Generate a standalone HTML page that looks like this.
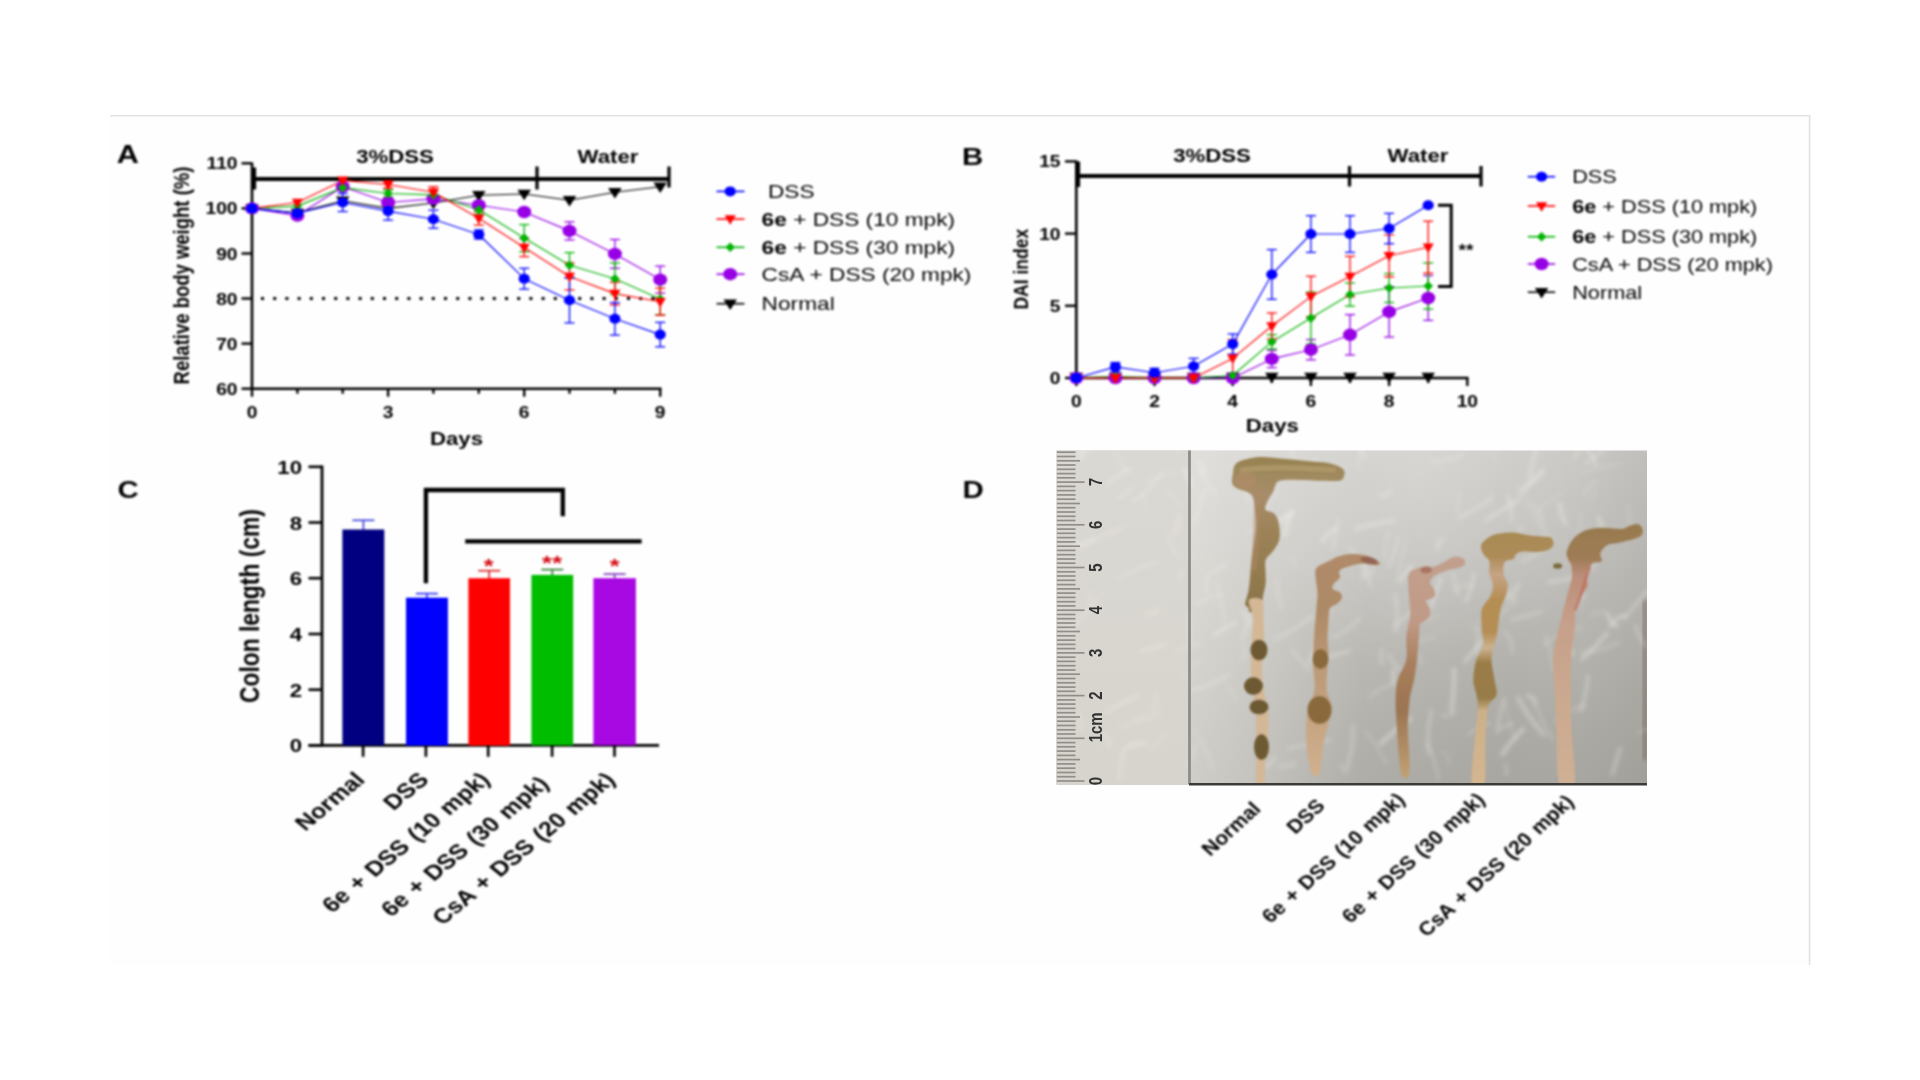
<!DOCTYPE html><html><head><meta charset="utf-8"><title>Figure</title><style>html,body{margin:0;padding:0;background:#fff;overflow:hidden}svg{display:block}text{font-family:'Liberation Sans', Arial, sans-serif}</style></head><body>
<svg width="1920" height="1080" viewBox="0 0 1920 1080">
<rect width="1920" height="1080" fill="#fff"/>
<defs><filter id="gblur" x="0" y="0" width="1920" height="1080" filterUnits="userSpaceOnUse" color-interpolation-filters="sRGB"><feGaussianBlur stdDeviation="1.0"/><feComponentTransfer><feFuncR type="linear" slope="1.25" intercept="-0.12"/><feFuncG type="linear" slope="1.25" intercept="-0.12"/><feFuncB type="linear" slope="1.25" intercept="-0.12"/></feComponentTransfer></filter></defs>
<rect x="110" y="116" width="1699" height="849" fill="#fefefe"/>
<line x1="110.0" y1="115.8" x2="1810.0" y2="115.8" stroke="#e2e2e2" stroke-width="1.6" />
<line x1="1809.6" y1="115.0" x2="1809.6" y2="965.0" stroke="#e2e2e2" stroke-width="1.6" />
<g filter="url(#gblur)">
<text transform="translate(116.8,162.6) scale(1.2,1)" font-size="25.5" font-weight="bold" text-anchor="start" fill="#111" id="tA">A</text>
<line x1="252.0" y1="162.5" x2="252.0" y2="390.0" stroke="#111" stroke-width="2.6" />
<line x1="251.0" y1="388.7" x2="661.5" y2="388.7" stroke="#111" stroke-width="2.6" />
<line x1="241.5" y1="388.7" x2="252.0" y2="388.7" stroke="#111" stroke-width="2.4" />
<text transform="translate(237.5,394.7) scale(1.2,1)" font-size="16" font-weight="bold" text-anchor="end" fill="#111" >60</text>
<line x1="241.5" y1="343.6" x2="252.0" y2="343.6" stroke="#111" stroke-width="2.4" />
<text transform="translate(237.5,349.6) scale(1.2,1)" font-size="16" font-weight="bold" text-anchor="end" fill="#111" >70</text>
<line x1="241.5" y1="298.5" x2="252.0" y2="298.5" stroke="#111" stroke-width="2.4" />
<text transform="translate(237.5,304.5) scale(1.2,1)" font-size="16" font-weight="bold" text-anchor="end" fill="#111" >80</text>
<line x1="241.5" y1="253.5" x2="252.0" y2="253.5" stroke="#111" stroke-width="2.4" />
<text transform="translate(237.5,259.5) scale(1.2,1)" font-size="16" font-weight="bold" text-anchor="end" fill="#111" >90</text>
<line x1="241.5" y1="208.4" x2="252.0" y2="208.4" stroke="#111" stroke-width="2.4" />
<text transform="translate(237.5,214.4) scale(1.2,1)" font-size="16" font-weight="bold" text-anchor="end" fill="#111" >100</text>
<line x1="241.5" y1="163.3" x2="252.0" y2="163.3" stroke="#111" stroke-width="2.4" />
<text transform="translate(237.5,169.3) scale(1.2,1)" font-size="16" font-weight="bold" text-anchor="end" fill="#111" >110</text>
<line x1="252.0" y1="388.7" x2="252.0" y2="396.7" stroke="#111" stroke-width="2.4" />
<line x1="297.4" y1="388.7" x2="297.4" y2="393.7" stroke="#111" stroke-width="2.4" />
<line x1="342.7" y1="388.7" x2="342.7" y2="393.7" stroke="#111" stroke-width="2.4" />
<line x1="388.1" y1="388.7" x2="388.1" y2="396.7" stroke="#111" stroke-width="2.4" />
<line x1="433.4" y1="388.7" x2="433.4" y2="393.7" stroke="#111" stroke-width="2.4" />
<line x1="478.8" y1="388.7" x2="478.8" y2="393.7" stroke="#111" stroke-width="2.4" />
<line x1="524.2" y1="388.7" x2="524.2" y2="396.7" stroke="#111" stroke-width="2.4" />
<line x1="569.5" y1="388.7" x2="569.5" y2="393.7" stroke="#111" stroke-width="2.4" />
<line x1="614.9" y1="388.7" x2="614.9" y2="393.7" stroke="#111" stroke-width="2.4" />
<line x1="660.2" y1="388.7" x2="660.2" y2="396.7" stroke="#111" stroke-width="2.4" />
<text transform="translate(252.0,417.5) scale(1.2,1)" font-size="16" font-weight="bold" text-anchor="middle" fill="#111" >0</text>
<text transform="translate(388.1,417.5) scale(1.2,1)" font-size="16" font-weight="bold" text-anchor="middle" fill="#111" >3</text>
<text transform="translate(524.2,417.5) scale(1.2,1)" font-size="16" font-weight="bold" text-anchor="middle" fill="#111" >6</text>
<text transform="translate(660.2,417.5) scale(1.2,1)" font-size="16" font-weight="bold" text-anchor="middle" fill="#111" >9</text>
<text transform="translate(456.5,445.0) scale(1.2,1)" font-size="18.5" font-weight="bold" text-anchor="middle" fill="#111" >Days</text>
<text transform="translate(189.3,275.5) scale(1.2,1) rotate(-90)" font-size="18.5" font-weight="bold" text-anchor="middle" fill="#111" id="ylA">Relative body weight (%)</text>
<line x1="254.0" y1="179.0" x2="669.5" y2="179.0" stroke="#111" stroke-width="4.0" />
<line x1="254.5" y1="167.5" x2="254.5" y2="189.5" stroke="#111" stroke-width="3.2" />
<line x1="537.0" y1="166.5" x2="537.0" y2="189.5" stroke="#111" stroke-width="3.2" />
<line x1="669.0" y1="166.5" x2="669.0" y2="187.5" stroke="#111" stroke-width="3.2" />
<text transform="translate(395.0,163.0) scale(1.2,1)" font-size="18.5" font-weight="bold" text-anchor="middle" fill="#111" >3%DSS</text>
<text transform="translate(608.0,163.0) scale(1.2,1)" font-size="18.5" font-weight="bold" text-anchor="middle" fill="#111" >Water</text>
<line x1="261" y1="298.5" x2="662" y2="298.5" stroke="#111" stroke-width="3" stroke-dasharray="3 9.2"/>
<polyline points="252.0,208.4 297.4,212.9 342.7,200.7 388.1,208.4 433.4,203.0 478.8,195.3 524.2,194.0 569.5,200.3 614.9,192.2 660.2,186.7" fill="none" stroke="#111" stroke-width="1.15" stroke-linejoin="round" />
<polyline points="252.0,208.4 297.4,215.6 342.7,186.7 388.1,202.5 433.4,198.9 478.8,205.2 524.2,212.0 569.5,230.9 614.9,253.9 660.2,279.6" fill="none" stroke="#9216d0" stroke-width="1.15" stroke-linejoin="round" />
<polyline points="252.0,208.4 297.4,206.1 342.7,187.6 388.1,193.5 433.4,194.9 478.8,209.7 524.2,238.1 569.5,265.2 614.9,278.7 660.2,299.0" fill="none" stroke="#16a816" stroke-width="1.15" stroke-linejoin="round" />
<polyline points="252.0,208.4 297.4,202.5 342.7,180.4 388.1,184.5 433.4,192.2 478.8,218.3 524.2,247.6 569.5,276.5 614.9,293.6 660.2,301.7" fill="none" stroke="#f01414" stroke-width="1.15" stroke-linejoin="round" />
<polyline points="252.0,208.4 297.4,213.3 342.7,202.5 388.1,211.1 433.4,219.2 478.8,234.5 524.2,278.7 569.5,300.3 614.9,318.8 660.2,334.6" fill="none" stroke="#0a0af5" stroke-width="1.15" stroke-linejoin="round" />
<line x1="388.1" y1="198.9" x2="388.1" y2="206.1" stroke="#9216d0" stroke-width="1.3" />
<line x1="383.1" y1="198.9" x2="393.1" y2="198.9" stroke="#9216d0" stroke-width="1.3" />
<line x1="383.1" y1="206.1" x2="393.1" y2="206.1" stroke="#9216d0" stroke-width="1.3" />
<line x1="433.4" y1="195.3" x2="433.4" y2="202.5" stroke="#9216d0" stroke-width="1.3" />
<line x1="428.4" y1="195.3" x2="438.4" y2="195.3" stroke="#9216d0" stroke-width="1.3" />
<line x1="428.4" y1="202.5" x2="438.4" y2="202.5" stroke="#9216d0" stroke-width="1.3" />
<line x1="524.2" y1="208.4" x2="524.2" y2="215.6" stroke="#9216d0" stroke-width="1.3" />
<line x1="519.2" y1="208.4" x2="529.2" y2="208.4" stroke="#9216d0" stroke-width="1.3" />
<line x1="519.2" y1="215.6" x2="529.2" y2="215.6" stroke="#9216d0" stroke-width="1.3" />
<line x1="569.5" y1="221.9" x2="569.5" y2="239.9" stroke="#9216d0" stroke-width="1.3" />
<line x1="564.5" y1="221.9" x2="574.5" y2="221.9" stroke="#9216d0" stroke-width="1.3" />
<line x1="564.5" y1="239.9" x2="574.5" y2="239.9" stroke="#9216d0" stroke-width="1.3" />
<line x1="614.9" y1="239.5" x2="614.9" y2="268.3" stroke="#9216d0" stroke-width="1.3" />
<line x1="609.9" y1="239.5" x2="619.9" y2="239.5" stroke="#9216d0" stroke-width="1.3" />
<line x1="609.9" y1="268.3" x2="619.9" y2="268.3" stroke="#9216d0" stroke-width="1.3" />
<line x1="660.2" y1="266.1" x2="660.2" y2="293.1" stroke="#9216d0" stroke-width="1.3" />
<line x1="655.2" y1="266.1" x2="665.2" y2="266.1" stroke="#9216d0" stroke-width="1.3" />
<line x1="655.2" y1="293.1" x2="665.2" y2="293.1" stroke="#9216d0" stroke-width="1.3" />
<line x1="388.1" y1="189.9" x2="388.1" y2="197.1" stroke="#16a816" stroke-width="1.3" />
<line x1="383.1" y1="189.9" x2="393.1" y2="189.9" stroke="#16a816" stroke-width="1.3" />
<line x1="383.1" y1="197.1" x2="393.1" y2="197.1" stroke="#16a816" stroke-width="1.3" />
<line x1="433.4" y1="191.2" x2="433.4" y2="198.5" stroke="#16a816" stroke-width="1.3" />
<line x1="428.4" y1="191.2" x2="438.4" y2="191.2" stroke="#16a816" stroke-width="1.3" />
<line x1="428.4" y1="198.5" x2="438.4" y2="198.5" stroke="#16a816" stroke-width="1.3" />
<line x1="478.8" y1="205.2" x2="478.8" y2="214.2" stroke="#16a816" stroke-width="1.3" />
<line x1="473.8" y1="205.2" x2="483.8" y2="205.2" stroke="#16a816" stroke-width="1.3" />
<line x1="473.8" y1="214.2" x2="483.8" y2="214.2" stroke="#16a816" stroke-width="1.3" />
<line x1="524.2" y1="224.6" x2="524.2" y2="251.7" stroke="#16a816" stroke-width="1.3" />
<line x1="519.2" y1="224.6" x2="529.2" y2="224.6" stroke="#16a816" stroke-width="1.3" />
<line x1="519.2" y1="251.7" x2="529.2" y2="251.7" stroke="#16a816" stroke-width="1.3" />
<line x1="569.5" y1="252.6" x2="569.5" y2="277.8" stroke="#16a816" stroke-width="1.3" />
<line x1="564.5" y1="252.6" x2="574.5" y2="252.6" stroke="#16a816" stroke-width="1.3" />
<line x1="564.5" y1="277.8" x2="574.5" y2="277.8" stroke="#16a816" stroke-width="1.3" />
<line x1="614.9" y1="262.9" x2="614.9" y2="294.5" stroke="#16a816" stroke-width="1.3" />
<line x1="609.9" y1="262.9" x2="619.9" y2="262.9" stroke="#16a816" stroke-width="1.3" />
<line x1="609.9" y1="294.5" x2="619.9" y2="294.5" stroke="#16a816" stroke-width="1.3" />
<line x1="660.2" y1="283.2" x2="660.2" y2="314.8" stroke="#16a816" stroke-width="1.3" />
<line x1="655.2" y1="283.2" x2="665.2" y2="283.2" stroke="#16a816" stroke-width="1.3" />
<line x1="655.2" y1="314.8" x2="665.2" y2="314.8" stroke="#16a816" stroke-width="1.3" />
<line x1="388.1" y1="180.9" x2="388.1" y2="188.1" stroke="#f01414" stroke-width="1.3" />
<line x1="383.1" y1="180.9" x2="393.1" y2="180.9" stroke="#f01414" stroke-width="1.3" />
<line x1="383.1" y1="188.1" x2="393.1" y2="188.1" stroke="#f01414" stroke-width="1.3" />
<line x1="433.4" y1="186.7" x2="433.4" y2="197.6" stroke="#f01414" stroke-width="1.3" />
<line x1="428.4" y1="186.7" x2="438.4" y2="186.7" stroke="#f01414" stroke-width="1.3" />
<line x1="428.4" y1="197.6" x2="438.4" y2="197.6" stroke="#f01414" stroke-width="1.3" />
<line x1="478.8" y1="211.5" x2="478.8" y2="225.1" stroke="#f01414" stroke-width="1.3" />
<line x1="473.8" y1="211.5" x2="483.8" y2="211.5" stroke="#f01414" stroke-width="1.3" />
<line x1="473.8" y1="225.1" x2="483.8" y2="225.1" stroke="#f01414" stroke-width="1.3" />
<line x1="524.2" y1="238.6" x2="524.2" y2="256.6" stroke="#f01414" stroke-width="1.3" />
<line x1="519.2" y1="238.6" x2="529.2" y2="238.6" stroke="#f01414" stroke-width="1.3" />
<line x1="519.2" y1="256.6" x2="529.2" y2="256.6" stroke="#f01414" stroke-width="1.3" />
<line x1="569.5" y1="262.9" x2="569.5" y2="290.0" stroke="#f01414" stroke-width="1.3" />
<line x1="564.5" y1="262.9" x2="574.5" y2="262.9" stroke="#f01414" stroke-width="1.3" />
<line x1="564.5" y1="290.0" x2="574.5" y2="290.0" stroke="#f01414" stroke-width="1.3" />
<line x1="614.9" y1="282.3" x2="614.9" y2="304.9" stroke="#f01414" stroke-width="1.3" />
<line x1="609.9" y1="282.3" x2="619.9" y2="282.3" stroke="#f01414" stroke-width="1.3" />
<line x1="609.9" y1="304.9" x2="619.9" y2="304.9" stroke="#f01414" stroke-width="1.3" />
<line x1="660.2" y1="288.2" x2="660.2" y2="315.2" stroke="#f01414" stroke-width="1.3" />
<line x1="655.2" y1="288.2" x2="665.2" y2="288.2" stroke="#f01414" stroke-width="1.3" />
<line x1="655.2" y1="315.2" x2="665.2" y2="315.2" stroke="#f01414" stroke-width="1.3" />
<line x1="297.4" y1="209.7" x2="297.4" y2="216.9" stroke="#0a0af5" stroke-width="1.3" />
<line x1="292.4" y1="209.7" x2="302.4" y2="209.7" stroke="#0a0af5" stroke-width="1.3" />
<line x1="292.4" y1="216.9" x2="302.4" y2="216.9" stroke="#0a0af5" stroke-width="1.3" />
<line x1="342.7" y1="193.5" x2="342.7" y2="211.5" stroke="#0a0af5" stroke-width="1.3" />
<line x1="337.7" y1="193.5" x2="347.7" y2="193.5" stroke="#0a0af5" stroke-width="1.3" />
<line x1="337.7" y1="211.5" x2="347.7" y2="211.5" stroke="#0a0af5" stroke-width="1.3" />
<line x1="388.1" y1="202.1" x2="388.1" y2="220.1" stroke="#0a0af5" stroke-width="1.3" />
<line x1="383.1" y1="202.1" x2="393.1" y2="202.1" stroke="#0a0af5" stroke-width="1.3" />
<line x1="383.1" y1="220.1" x2="393.1" y2="220.1" stroke="#0a0af5" stroke-width="1.3" />
<line x1="433.4" y1="210.2" x2="433.4" y2="228.2" stroke="#0a0af5" stroke-width="1.3" />
<line x1="428.4" y1="210.2" x2="438.4" y2="210.2" stroke="#0a0af5" stroke-width="1.3" />
<line x1="428.4" y1="228.2" x2="438.4" y2="228.2" stroke="#0a0af5" stroke-width="1.3" />
<line x1="478.8" y1="230.0" x2="478.8" y2="239.0" stroke="#0a0af5" stroke-width="1.3" />
<line x1="473.8" y1="230.0" x2="483.8" y2="230.0" stroke="#0a0af5" stroke-width="1.3" />
<line x1="473.8" y1="239.0" x2="483.8" y2="239.0" stroke="#0a0af5" stroke-width="1.3" />
<line x1="524.2" y1="268.3" x2="524.2" y2="289.1" stroke="#0a0af5" stroke-width="1.3" />
<line x1="519.2" y1="268.3" x2="529.2" y2="268.3" stroke="#0a0af5" stroke-width="1.3" />
<line x1="519.2" y1="289.1" x2="529.2" y2="289.1" stroke="#0a0af5" stroke-width="1.3" />
<line x1="569.5" y1="277.8" x2="569.5" y2="322.9" stroke="#0a0af5" stroke-width="1.3" />
<line x1="564.5" y1="277.8" x2="574.5" y2="277.8" stroke="#0a0af5" stroke-width="1.3" />
<line x1="564.5" y1="322.9" x2="574.5" y2="322.9" stroke="#0a0af5" stroke-width="1.3" />
<line x1="614.9" y1="302.6" x2="614.9" y2="335.1" stroke="#0a0af5" stroke-width="1.3" />
<line x1="609.9" y1="302.6" x2="619.9" y2="302.6" stroke="#0a0af5" stroke-width="1.3" />
<line x1="609.9" y1="335.1" x2="619.9" y2="335.1" stroke="#0a0af5" stroke-width="1.3" />
<line x1="660.2" y1="322.4" x2="660.2" y2="346.8" stroke="#0a0af5" stroke-width="1.3" />
<line x1="655.2" y1="322.4" x2="665.2" y2="322.4" stroke="#0a0af5" stroke-width="1.3" />
<line x1="655.2" y1="346.8" x2="665.2" y2="346.8" stroke="#0a0af5" stroke-width="1.3" />
<polygon points="245.2,204.2 258.8,204.2 252.0,214.7" fill="#111"/>
<polygon points="290.6,208.7 304.2,208.7 297.4,219.2" fill="#111"/>
<polygon points="335.9,196.5 349.5,196.5 342.7,207.0" fill="#111"/>
<polygon points="381.3,204.2 394.9,204.2 388.1,214.7" fill="#111"/>
<polygon points="426.6,198.8 440.2,198.8 433.4,209.3" fill="#111"/>
<polygon points="472.0,191.1 485.6,191.1 478.8,201.6" fill="#111"/>
<polygon points="517.4,189.8 531.0,189.8 524.2,200.3" fill="#111"/>
<polygon points="562.7,196.1 576.3,196.1 569.5,206.6" fill="#111"/>
<polygon points="608.1,188.0 621.7,188.0 614.9,198.5" fill="#111"/>
<polygon points="653.4,182.5 667.0,182.5 660.2,193.0" fill="#111"/>
<ellipse cx="252.0" cy="208.4" rx="7.0" ry="6.2" fill="#9216d0"/>
<ellipse cx="297.4" cy="215.6" rx="7.0" ry="6.2" fill="#9216d0"/>
<ellipse cx="342.7" cy="186.7" rx="7.0" ry="6.2" fill="#9216d0"/>
<ellipse cx="388.1" cy="202.5" rx="7.0" ry="6.2" fill="#9216d0"/>
<ellipse cx="433.4" cy="198.9" rx="7.0" ry="6.2" fill="#9216d0"/>
<ellipse cx="478.8" cy="205.2" rx="7.0" ry="6.2" fill="#9216d0"/>
<ellipse cx="524.2" cy="212.0" rx="7.0" ry="6.2" fill="#9216d0"/>
<ellipse cx="569.5" cy="230.9" rx="7.0" ry="6.2" fill="#9216d0"/>
<ellipse cx="614.9" cy="253.9" rx="7.0" ry="6.2" fill="#9216d0"/>
<ellipse cx="660.2" cy="279.6" rx="7.0" ry="6.2" fill="#9216d0"/>
<polygon points="247.2,208.4 252.0,203.6 256.8,208.4 252.0,213.2" fill="#16a816"/>
<polygon points="292.6,206.1 297.4,201.3 302.2,206.1 297.4,210.9" fill="#16a816"/>
<polygon points="337.9,187.6 342.7,182.8 347.5,187.6 342.7,192.4" fill="#16a816"/>
<polygon points="383.3,193.5 388.1,188.7 392.9,193.5 388.1,198.3" fill="#16a816"/>
<polygon points="428.6,194.9 433.4,190.1 438.2,194.9 433.4,199.7" fill="#16a816"/>
<polygon points="474.0,209.7 478.8,204.9 483.6,209.7 478.8,214.5" fill="#16a816"/>
<polygon points="519.4,238.1 524.2,233.3 529.0,238.1 524.2,242.9" fill="#16a816"/>
<polygon points="564.7,265.2 569.5,260.4 574.3,265.2 569.5,270.0" fill="#16a816"/>
<polygon points="610.1,278.7 614.9,273.9 619.7,278.7 614.9,283.5" fill="#16a816"/>
<polygon points="655.4,299.0 660.2,294.2 665.0,299.0 660.2,303.8" fill="#16a816"/>
<polygon points="246.4,204.6 257.6,204.6 252.0,214.1" fill="#f01414"/>
<polygon points="291.8,198.7 303.0,198.7 297.4,208.2" fill="#f01414"/>
<polygon points="337.1,176.6 348.3,176.6 342.7,186.1" fill="#f01414"/>
<polygon points="382.5,180.7 393.7,180.7 388.1,190.2" fill="#f01414"/>
<polygon points="427.8,188.4 439.0,188.4 433.4,197.9" fill="#f01414"/>
<polygon points="473.2,214.5 484.4,214.5 478.8,224.0" fill="#f01414"/>
<polygon points="518.6,243.8 529.8,243.8 524.2,253.3" fill="#f01414"/>
<polygon points="563.9,272.7 575.1,272.7 569.5,282.2" fill="#f01414"/>
<polygon points="609.3,289.8 620.5,289.8 614.9,299.3" fill="#f01414"/>
<polygon points="654.6,297.9 665.8,297.9 660.2,307.4" fill="#f01414"/>
<ellipse cx="252.0" cy="208.4" rx="5.6" ry="5.0" fill="#0a0af5"/>
<ellipse cx="297.4" cy="213.3" rx="5.6" ry="5.0" fill="#0a0af5"/>
<ellipse cx="342.7" cy="202.5" rx="5.6" ry="5.0" fill="#0a0af5"/>
<ellipse cx="388.1" cy="211.1" rx="5.6" ry="5.0" fill="#0a0af5"/>
<ellipse cx="433.4" cy="219.2" rx="5.6" ry="5.0" fill="#0a0af5"/>
<ellipse cx="478.8" cy="234.5" rx="5.6" ry="5.0" fill="#0a0af5"/>
<ellipse cx="524.2" cy="278.7" rx="5.6" ry="5.0" fill="#0a0af5"/>
<ellipse cx="569.5" cy="300.3" rx="5.6" ry="5.0" fill="#0a0af5"/>
<ellipse cx="614.9" cy="318.8" rx="5.6" ry="5.0" fill="#0a0af5"/>
<ellipse cx="660.2" cy="334.6" rx="5.6" ry="5.0" fill="#0a0af5"/>
<line x1="716.5" y1="191.4" x2="744.5" y2="191.4" stroke="#0a0af5" stroke-width="1.6" />
<ellipse cx="730.2" cy="191.4" rx="5.6" ry="5.0" fill="#0a0af5"/>
<text transform="translate(761.6,197.9) scale(1.26,1)" font-size="18" fill="#1a1a1a"> DSS</text>
<line x1="716.5" y1="219.1" x2="744.5" y2="219.1" stroke="#f01414" stroke-width="1.6" />
<polygon points="724.6,215.3 735.8,215.3 730.2,224.8" fill="#f01414"/>
<text transform="translate(761.6,225.6) scale(1.26,1)" font-size="18" fill="#1a1a1a"><tspan font-weight="bold">6e</tspan> + DSS (10 mpk)</text>
<line x1="716.5" y1="247.3" x2="744.5" y2="247.3" stroke="#16a816" stroke-width="1.6" />
<polygon points="725.4,247.3 730.2,242.5 735.0,247.3 730.2,252.1" fill="#16a816"/>
<text transform="translate(761.6,253.8) scale(1.26,1)" font-size="18" fill="#1a1a1a"><tspan font-weight="bold">6e</tspan> + DSS (30 mpk)</text>
<line x1="716.5" y1="274.2" x2="744.5" y2="274.2" stroke="#9216d0" stroke-width="1.6" />
<ellipse cx="730.2" cy="274.2" rx="7.0" ry="6.2" fill="#9216d0"/>
<text transform="translate(761.6,280.7) scale(1.26,1)" font-size="18" fill="#1a1a1a">CsA + DSS (20 mpk)</text>
<line x1="716.5" y1="303.7" x2="744.5" y2="303.7" stroke="#111" stroke-width="1.6" />
<polygon points="723.4,299.5 737.0,299.5 730.2,310.0" fill="#111"/>
<text transform="translate(761.6,310.2) scale(1.26,1)" font-size="18" fill="#1a1a1a">Normal</text>
<text transform="translate(962.0,165.0) scale(1.2,1)" font-size="24.5" font-weight="bold" text-anchor="start" fill="#111" id="tB">B</text>
<line x1="1076.3" y1="160.5" x2="1076.3" y2="379.3" stroke="#111" stroke-width="2.6" />
<line x1="1075.0" y1="378.0" x2="1468.5" y2="378.0" stroke="#111" stroke-width="2.6" />
<line x1="1065.0" y1="378.0" x2="1076.3" y2="378.0" stroke="#111" stroke-width="2.4" />
<text transform="translate(1060.5,384.0) scale(1.2,1)" font-size="16" font-weight="bold" text-anchor="end" fill="#111" >0</text>
<line x1="1065.0" y1="305.8" x2="1076.3" y2="305.8" stroke="#111" stroke-width="2.4" />
<text transform="translate(1060.5,311.8) scale(1.2,1)" font-size="16" font-weight="bold" text-anchor="end" fill="#111" >5</text>
<line x1="1065.0" y1="233.6" x2="1076.3" y2="233.6" stroke="#111" stroke-width="2.4" />
<text transform="translate(1060.5,239.6) scale(1.2,1)" font-size="16" font-weight="bold" text-anchor="end" fill="#111" >10</text>
<line x1="1065.0" y1="161.4" x2="1076.3" y2="161.4" stroke="#111" stroke-width="2.4" />
<text transform="translate(1060.5,167.4) scale(1.2,1)" font-size="16" font-weight="bold" text-anchor="end" fill="#111" >15</text>
<line x1="1076.3" y1="378.0" x2="1076.3" y2="386.0" stroke="#111" stroke-width="2.4" />
<line x1="1115.4" y1="378.0" x2="1115.4" y2="383.0" stroke="#111" stroke-width="2.4" />
<line x1="1154.5" y1="378.0" x2="1154.5" y2="386.0" stroke="#111" stroke-width="2.4" />
<line x1="1193.6" y1="378.0" x2="1193.6" y2="383.0" stroke="#111" stroke-width="2.4" />
<line x1="1232.7" y1="378.0" x2="1232.7" y2="386.0" stroke="#111" stroke-width="2.4" />
<line x1="1271.8" y1="378.0" x2="1271.8" y2="383.0" stroke="#111" stroke-width="2.4" />
<line x1="1310.9" y1="378.0" x2="1310.9" y2="386.0" stroke="#111" stroke-width="2.4" />
<line x1="1350.0" y1="378.0" x2="1350.0" y2="383.0" stroke="#111" stroke-width="2.4" />
<line x1="1389.1" y1="378.0" x2="1389.1" y2="386.0" stroke="#111" stroke-width="2.4" />
<line x1="1428.2" y1="378.0" x2="1428.2" y2="383.0" stroke="#111" stroke-width="2.4" />
<line x1="1467.3" y1="378.0" x2="1467.3" y2="386.0" stroke="#111" stroke-width="2.4" />
<text transform="translate(1076.3,406.5) scale(1.2,1)" font-size="16" font-weight="bold" text-anchor="middle" fill="#111" >0</text>
<text transform="translate(1154.5,406.5) scale(1.2,1)" font-size="16" font-weight="bold" text-anchor="middle" fill="#111" >2</text>
<text transform="translate(1232.7,406.5) scale(1.2,1)" font-size="16" font-weight="bold" text-anchor="middle" fill="#111" >4</text>
<text transform="translate(1310.9,406.5) scale(1.2,1)" font-size="16" font-weight="bold" text-anchor="middle" fill="#111" >6</text>
<text transform="translate(1389.1,406.5) scale(1.2,1)" font-size="16" font-weight="bold" text-anchor="middle" fill="#111" >8</text>
<text transform="translate(1467.3,406.5) scale(1.2,1)" font-size="16" font-weight="bold" text-anchor="middle" fill="#111" >10</text>
<text transform="translate(1272.3,431.5) scale(1.2,1)" font-size="18.5" font-weight="bold" text-anchor="middle" fill="#111" >Days</text>
<text transform="translate(1027.5,269.2) scale(1.2,1) rotate(-90)" font-size="17.5" font-weight="bold" text-anchor="middle" fill="#111" id="ylB">DAI index</text>
<line x1="1078.0" y1="176.0" x2="1481.5" y2="176.0" stroke="#111" stroke-width="4.0" />
<line x1="1078.5" y1="161.5" x2="1078.5" y2="187.0" stroke="#111" stroke-width="3.2" />
<line x1="1349.5" y1="166.0" x2="1349.5" y2="186.5" stroke="#111" stroke-width="3.2" />
<line x1="1481.0" y1="166.0" x2="1481.0" y2="186.5" stroke="#111" stroke-width="3.2" />
<text transform="translate(1212.0,161.5) scale(1.2,1)" font-size="18.5" font-weight="bold" text-anchor="middle" fill="#111" >3%DSS</text>
<text transform="translate(1418.0,161.5) scale(1.2,1)" font-size="18.5" font-weight="bold" text-anchor="middle" fill="#111" >Water</text>
<polyline points="1076.3,378.0 1115.4,378.0 1154.5,378.0 1193.6,378.0 1232.7,378.0 1271.8,378.0 1310.9,378.0 1350.0,378.0 1389.1,378.0 1428.2,378.0" fill="none" stroke="#111" stroke-width="1.15" stroke-linejoin="round" />
<polyline points="1076.3,378.0 1115.4,378.0 1154.5,378.0 1193.6,378.0 1232.7,378.0 1271.8,358.9 1310.9,349.7 1350.0,334.8 1389.1,311.9 1428.2,298.0" fill="none" stroke="#9216d0" stroke-width="1.15" stroke-linejoin="round" />
<polyline points="1076.3,378.0 1115.4,376.6 1154.5,378.0 1193.6,378.0 1232.7,375.5 1271.8,341.9 1310.9,318.1 1350.0,294.5 1389.1,288.0 1428.2,286.0" fill="none" stroke="#16a816" stroke-width="1.15" stroke-linejoin="round" />
<polyline points="1076.3,378.0 1115.4,378.0 1154.5,378.0 1193.6,378.0 1232.7,358.4 1271.8,326.0 1310.9,296.6 1350.0,276.5 1389.1,255.8 1428.2,247.2" fill="none" stroke="#f01414" stroke-width="1.15" stroke-linejoin="round" />
<polyline points="1076.3,378.0 1115.4,366.9 1154.5,372.7 1193.6,366.3 1232.7,344.1 1271.8,274.5 1310.9,234.0 1350.0,234.0 1389.1,228.5 1428.2,205.2" fill="none" stroke="#0a0af5" stroke-width="1.15" stroke-linejoin="round" />
<line x1="1271.8" y1="350.3" x2="1271.8" y2="367.6" stroke="#9216d0" stroke-width="1.3" />
<line x1="1266.8" y1="350.3" x2="1276.8" y2="350.3" stroke="#9216d0" stroke-width="1.3" />
<line x1="1266.8" y1="367.6" x2="1276.8" y2="367.6" stroke="#9216d0" stroke-width="1.3" />
<line x1="1310.9" y1="339.6" x2="1310.9" y2="359.8" stroke="#9216d0" stroke-width="1.3" />
<line x1="1305.9" y1="339.6" x2="1315.9" y2="339.6" stroke="#9216d0" stroke-width="1.3" />
<line x1="1305.9" y1="359.8" x2="1315.9" y2="359.8" stroke="#9216d0" stroke-width="1.3" />
<line x1="1350.0" y1="314.6" x2="1350.0" y2="355.0" stroke="#9216d0" stroke-width="1.3" />
<line x1="1345.0" y1="314.6" x2="1355.0" y2="314.6" stroke="#9216d0" stroke-width="1.3" />
<line x1="1345.0" y1="355.0" x2="1355.0" y2="355.0" stroke="#9216d0" stroke-width="1.3" />
<line x1="1389.1" y1="286.6" x2="1389.1" y2="337.1" stroke="#9216d0" stroke-width="1.3" />
<line x1="1384.1" y1="286.6" x2="1394.1" y2="286.6" stroke="#9216d0" stroke-width="1.3" />
<line x1="1384.1" y1="337.1" x2="1394.1" y2="337.1" stroke="#9216d0" stroke-width="1.3" />
<line x1="1428.2" y1="275.6" x2="1428.2" y2="320.4" stroke="#9216d0" stroke-width="1.3" />
<line x1="1423.2" y1="275.6" x2="1433.2" y2="275.6" stroke="#9216d0" stroke-width="1.3" />
<line x1="1423.2" y1="320.4" x2="1433.2" y2="320.4" stroke="#9216d0" stroke-width="1.3" />
<line x1="1271.8" y1="334.7" x2="1271.8" y2="349.1" stroke="#16a816" stroke-width="1.3" />
<line x1="1266.8" y1="334.7" x2="1276.8" y2="334.7" stroke="#16a816" stroke-width="1.3" />
<line x1="1266.8" y1="349.1" x2="1276.8" y2="349.1" stroke="#16a816" stroke-width="1.3" />
<line x1="1310.9" y1="292.1" x2="1310.9" y2="344.1" stroke="#16a816" stroke-width="1.3" />
<line x1="1305.9" y1="292.1" x2="1315.9" y2="292.1" stroke="#16a816" stroke-width="1.3" />
<line x1="1305.9" y1="344.1" x2="1315.9" y2="344.1" stroke="#16a816" stroke-width="1.3" />
<line x1="1350.0" y1="283.0" x2="1350.0" y2="306.1" stroke="#16a816" stroke-width="1.3" />
<line x1="1345.0" y1="283.0" x2="1355.0" y2="283.0" stroke="#16a816" stroke-width="1.3" />
<line x1="1345.0" y1="306.1" x2="1355.0" y2="306.1" stroke="#16a816" stroke-width="1.3" />
<line x1="1389.1" y1="273.6" x2="1389.1" y2="302.5" stroke="#16a816" stroke-width="1.3" />
<line x1="1384.1" y1="273.6" x2="1394.1" y2="273.6" stroke="#16a816" stroke-width="1.3" />
<line x1="1384.1" y1="302.5" x2="1394.1" y2="302.5" stroke="#16a816" stroke-width="1.3" />
<line x1="1428.2" y1="262.9" x2="1428.2" y2="309.1" stroke="#16a816" stroke-width="1.3" />
<line x1="1423.2" y1="262.9" x2="1433.2" y2="262.9" stroke="#16a816" stroke-width="1.3" />
<line x1="1423.2" y1="309.1" x2="1433.2" y2="309.1" stroke="#16a816" stroke-width="1.3" />
<line x1="1232.7" y1="339.6" x2="1232.7" y2="377.1" stroke="#f01414" stroke-width="1.3" />
<line x1="1227.7" y1="339.6" x2="1237.7" y2="339.6" stroke="#f01414" stroke-width="1.3" />
<line x1="1227.7" y1="377.1" x2="1237.7" y2="377.1" stroke="#f01414" stroke-width="1.3" />
<line x1="1271.8" y1="313.0" x2="1271.8" y2="339.0" stroke="#f01414" stroke-width="1.3" />
<line x1="1266.8" y1="313.0" x2="1276.8" y2="313.0" stroke="#f01414" stroke-width="1.3" />
<line x1="1266.8" y1="339.0" x2="1276.8" y2="339.0" stroke="#f01414" stroke-width="1.3" />
<line x1="1310.9" y1="276.3" x2="1310.9" y2="316.8" stroke="#f01414" stroke-width="1.3" />
<line x1="1305.9" y1="276.3" x2="1315.9" y2="276.3" stroke="#f01414" stroke-width="1.3" />
<line x1="1305.9" y1="316.8" x2="1315.9" y2="316.8" stroke="#f01414" stroke-width="1.3" />
<line x1="1350.0" y1="256.3" x2="1350.0" y2="296.7" stroke="#f01414" stroke-width="1.3" />
<line x1="1345.0" y1="256.3" x2="1355.0" y2="256.3" stroke="#f01414" stroke-width="1.3" />
<line x1="1345.0" y1="296.7" x2="1355.0" y2="296.7" stroke="#f01414" stroke-width="1.3" />
<line x1="1389.1" y1="234.9" x2="1389.1" y2="276.8" stroke="#f01414" stroke-width="1.3" />
<line x1="1384.1" y1="234.9" x2="1394.1" y2="234.9" stroke="#f01414" stroke-width="1.3" />
<line x1="1384.1" y1="276.8" x2="1394.1" y2="276.8" stroke="#f01414" stroke-width="1.3" />
<line x1="1428.2" y1="221.2" x2="1428.2" y2="273.2" stroke="#f01414" stroke-width="1.3" />
<line x1="1423.2" y1="221.2" x2="1433.2" y2="221.2" stroke="#f01414" stroke-width="1.3" />
<line x1="1423.2" y1="273.2" x2="1433.2" y2="273.2" stroke="#f01414" stroke-width="1.3" />
<line x1="1115.4" y1="362.5" x2="1115.4" y2="371.2" stroke="#0a0af5" stroke-width="1.3" />
<line x1="1110.4" y1="362.5" x2="1120.4" y2="362.5" stroke="#0a0af5" stroke-width="1.3" />
<line x1="1110.4" y1="371.2" x2="1120.4" y2="371.2" stroke="#0a0af5" stroke-width="1.3" />
<line x1="1154.5" y1="368.3" x2="1154.5" y2="377.0" stroke="#0a0af5" stroke-width="1.3" />
<line x1="1149.5" y1="368.3" x2="1159.5" y2="368.3" stroke="#0a0af5" stroke-width="1.3" />
<line x1="1149.5" y1="377.0" x2="1159.5" y2="377.0" stroke="#0a0af5" stroke-width="1.3" />
<line x1="1193.6" y1="358.4" x2="1193.6" y2="374.2" stroke="#0a0af5" stroke-width="1.3" />
<line x1="1188.6" y1="358.4" x2="1198.6" y2="358.4" stroke="#0a0af5" stroke-width="1.3" />
<line x1="1188.6" y1="374.2" x2="1198.6" y2="374.2" stroke="#0a0af5" stroke-width="1.3" />
<line x1="1232.7" y1="334.0" x2="1232.7" y2="354.2" stroke="#0a0af5" stroke-width="1.3" />
<line x1="1227.7" y1="334.0" x2="1237.7" y2="334.0" stroke="#0a0af5" stroke-width="1.3" />
<line x1="1227.7" y1="354.2" x2="1237.7" y2="354.2" stroke="#0a0af5" stroke-width="1.3" />
<line x1="1271.8" y1="249.6" x2="1271.8" y2="299.3" stroke="#0a0af5" stroke-width="1.3" />
<line x1="1266.8" y1="249.6" x2="1276.8" y2="249.6" stroke="#0a0af5" stroke-width="1.3" />
<line x1="1266.8" y1="299.3" x2="1276.8" y2="299.3" stroke="#0a0af5" stroke-width="1.3" />
<line x1="1310.9" y1="215.7" x2="1310.9" y2="252.4" stroke="#0a0af5" stroke-width="1.3" />
<line x1="1305.9" y1="215.7" x2="1315.9" y2="215.7" stroke="#0a0af5" stroke-width="1.3" />
<line x1="1305.9" y1="252.4" x2="1315.9" y2="252.4" stroke="#0a0af5" stroke-width="1.3" />
<line x1="1350.0" y1="215.7" x2="1350.0" y2="252.4" stroke="#0a0af5" stroke-width="1.3" />
<line x1="1345.0" y1="215.7" x2="1355.0" y2="215.7" stroke="#0a0af5" stroke-width="1.3" />
<line x1="1345.0" y1="252.4" x2="1355.0" y2="252.4" stroke="#0a0af5" stroke-width="1.3" />
<line x1="1389.1" y1="213.4" x2="1389.1" y2="243.7" stroke="#0a0af5" stroke-width="1.3" />
<line x1="1384.1" y1="213.4" x2="1394.1" y2="213.4" stroke="#0a0af5" stroke-width="1.3" />
<line x1="1384.1" y1="243.7" x2="1394.1" y2="243.7" stroke="#0a0af5" stroke-width="1.3" />
<polygon points="1069.5,372.8 1083.1,372.8 1076.3,383.3" fill="#111"/>
<polygon points="1108.6,372.8 1122.2,372.8 1115.4,383.3" fill="#111"/>
<polygon points="1147.7,372.8 1161.3,372.8 1154.5,383.3" fill="#111"/>
<polygon points="1186.8,372.8 1200.4,372.8 1193.6,383.3" fill="#111"/>
<polygon points="1225.9,372.8 1239.5,372.8 1232.7,383.3" fill="#111"/>
<polygon points="1265.0,372.8 1278.6,372.8 1271.8,383.3" fill="#111"/>
<polygon points="1304.1,372.8 1317.7,372.8 1310.9,383.3" fill="#111"/>
<polygon points="1343.2,372.8 1356.8,372.8 1350.0,383.3" fill="#111"/>
<polygon points="1382.3,372.8 1395.9,372.8 1389.1,383.3" fill="#111"/>
<polygon points="1421.4,372.8 1435.0,372.8 1428.2,383.3" fill="#111"/>
<ellipse cx="1076.3" cy="378.0" rx="7.0" ry="6.2" fill="#9216d0"/>
<ellipse cx="1115.4" cy="378.0" rx="7.0" ry="6.2" fill="#9216d0"/>
<ellipse cx="1154.5" cy="378.0" rx="7.0" ry="6.2" fill="#9216d0"/>
<ellipse cx="1193.6" cy="378.0" rx="7.0" ry="6.2" fill="#9216d0"/>
<ellipse cx="1232.7" cy="378.0" rx="7.0" ry="6.2" fill="#9216d0"/>
<ellipse cx="1271.8" cy="358.9" rx="7.0" ry="6.2" fill="#9216d0"/>
<ellipse cx="1310.9" cy="349.7" rx="7.0" ry="6.2" fill="#9216d0"/>
<ellipse cx="1350.0" cy="334.8" rx="7.0" ry="6.2" fill="#9216d0"/>
<ellipse cx="1389.1" cy="311.9" rx="7.0" ry="6.2" fill="#9216d0"/>
<ellipse cx="1428.2" cy="298.0" rx="7.0" ry="6.2" fill="#9216d0"/>
<polygon points="1071.5,378.0 1076.3,373.2 1081.1,378.0 1076.3,382.8" fill="#16a816"/>
<polygon points="1110.6,376.6 1115.4,371.8 1120.2,376.6 1115.4,381.4" fill="#16a816"/>
<polygon points="1149.7,378.0 1154.5,373.2 1159.3,378.0 1154.5,382.8" fill="#16a816"/>
<polygon points="1188.8,378.0 1193.6,373.2 1198.4,378.0 1193.6,382.8" fill="#16a816"/>
<polygon points="1227.9,375.5 1232.7,370.7 1237.5,375.5 1232.7,380.3" fill="#16a816"/>
<polygon points="1267.0,341.9 1271.8,337.1 1276.6,341.9 1271.8,346.7" fill="#16a816"/>
<polygon points="1306.1,318.1 1310.9,313.3 1315.7,318.1 1310.9,322.9" fill="#16a816"/>
<polygon points="1345.2,294.5 1350.0,289.7 1354.8,294.5 1350.0,299.3" fill="#16a816"/>
<polygon points="1384.3,288.0 1389.1,283.2 1393.9,288.0 1389.1,292.8" fill="#16a816"/>
<polygon points="1423.4,286.0 1428.2,281.2 1433.0,286.0 1428.2,290.8" fill="#16a816"/>
<polygon points="1070.7,374.2 1081.9,374.2 1076.3,383.7" fill="#f01414"/>
<polygon points="1109.8,374.2 1121.0,374.2 1115.4,383.7" fill="#f01414"/>
<polygon points="1148.9,374.2 1160.1,374.2 1154.5,383.7" fill="#f01414"/>
<polygon points="1188.0,374.2 1199.2,374.2 1193.6,383.7" fill="#f01414"/>
<polygon points="1227.1,354.6 1238.3,354.6 1232.7,364.1" fill="#f01414"/>
<polygon points="1266.2,322.2 1277.4,322.2 1271.8,331.7" fill="#f01414"/>
<polygon points="1305.3,292.8 1316.5,292.8 1310.9,302.3" fill="#f01414"/>
<polygon points="1344.4,272.7 1355.6,272.7 1350.0,282.2" fill="#f01414"/>
<polygon points="1383.5,252.0 1394.7,252.0 1389.1,261.5" fill="#f01414"/>
<polygon points="1422.6,243.4 1433.8,243.4 1428.2,252.9" fill="#f01414"/>
<ellipse cx="1076.3" cy="378.0" rx="5.6" ry="5.0" fill="#0a0af5"/>
<ellipse cx="1115.4" cy="366.9" rx="5.6" ry="5.0" fill="#0a0af5"/>
<ellipse cx="1154.5" cy="372.7" rx="5.6" ry="5.0" fill="#0a0af5"/>
<ellipse cx="1193.6" cy="366.3" rx="5.6" ry="5.0" fill="#0a0af5"/>
<ellipse cx="1232.7" cy="344.1" rx="5.6" ry="5.0" fill="#0a0af5"/>
<ellipse cx="1271.8" cy="274.5" rx="5.6" ry="5.0" fill="#0a0af5"/>
<ellipse cx="1310.9" cy="234.0" rx="5.6" ry="5.0" fill="#0a0af5"/>
<ellipse cx="1350.0" cy="234.0" rx="5.6" ry="5.0" fill="#0a0af5"/>
<ellipse cx="1389.1" cy="228.5" rx="5.6" ry="5.0" fill="#0a0af5"/>
<ellipse cx="1428.2" cy="205.2" rx="5.6" ry="5.0" fill="#0a0af5"/>
<polyline points="1438,205.2 1451.2,205.2 1451.2,286.5 1438,286.5" fill="none" stroke="#111" stroke-width="3"/>
<text transform="translate(1466.0,256.0) scale(1.2,1)" font-size="16" font-weight="bold" text-anchor="middle" fill="#111" >**</text>
<line x1="1527.8" y1="176.7" x2="1555.2" y2="176.7" stroke="#0a0af5" stroke-width="1.6" />
<ellipse cx="1541.6" cy="176.7" rx="5.6" ry="5.0" fill="#0a0af5"/>
<text transform="translate(1572.2,183.2) scale(1.24,1)" font-size="17.5" fill="#1a1a1a">DSS</text>
<line x1="1527.8" y1="206.0" x2="1555.2" y2="206.0" stroke="#f01414" stroke-width="1.6" />
<polygon points="1536.0,202.2 1547.2,202.2 1541.6,211.7" fill="#f01414"/>
<text transform="translate(1572.2,212.5) scale(1.24,1)" font-size="17.5" fill="#1a1a1a"><tspan font-weight="bold">6e</tspan> + DSS (10 mpk)</text>
<line x1="1527.8" y1="236.7" x2="1555.2" y2="236.7" stroke="#16a816" stroke-width="1.6" />
<polygon points="1536.8,236.7 1541.6,231.9 1546.4,236.7 1541.6,241.5" fill="#16a816"/>
<text transform="translate(1572.2,243.2) scale(1.24,1)" font-size="17.5" fill="#1a1a1a"><tspan font-weight="bold">6e</tspan> + DSS (30 mpk)</text>
<line x1="1527.8" y1="264.0" x2="1555.2" y2="264.0" stroke="#9216d0" stroke-width="1.6" />
<ellipse cx="1541.6" cy="264.0" rx="7.0" ry="6.2" fill="#9216d0"/>
<text transform="translate(1572.2,270.5) scale(1.24,1)" font-size="17.5" fill="#1a1a1a">CsA + DSS (20 mpk)</text>
<line x1="1527.8" y1="292.2" x2="1555.2" y2="292.2" stroke="#111" stroke-width="1.6" />
<polygon points="1534.8,288.0 1548.4,288.0 1541.6,298.5" fill="#111"/>
<text transform="translate(1572.2,298.7) scale(1.24,1)" font-size="17.5" fill="#1a1a1a">Normal</text>
<text transform="translate(117.5,498.2) scale(1.2,1)" font-size="24.5" font-weight="bold" text-anchor="start" fill="#111" id="tC">C</text>
<line x1="322.0" y1="465.5" x2="322.0" y2="746.5" stroke="#111" stroke-width="2.8" />
<line x1="308.5" y1="745.4" x2="659.0" y2="745.4" stroke="#111" stroke-width="2.8" />
<line x1="308.5" y1="745.4" x2="322.0" y2="745.4" stroke="#111" stroke-width="2.6" />
<text transform="translate(302.0,752.4) scale(1.2,1)" font-size="18.5" font-weight="bold" text-anchor="end" fill="#111" >0</text>
<line x1="308.5" y1="689.7" x2="322.0" y2="689.7" stroke="#111" stroke-width="2.6" />
<text transform="translate(302.0,696.7) scale(1.2,1)" font-size="18.5" font-weight="bold" text-anchor="end" fill="#111" >2</text>
<line x1="308.5" y1="634.0" x2="322.0" y2="634.0" stroke="#111" stroke-width="2.6" />
<text transform="translate(302.0,641.0) scale(1.2,1)" font-size="18.5" font-weight="bold" text-anchor="end" fill="#111" >4</text>
<line x1="308.5" y1="578.2" x2="322.0" y2="578.2" stroke="#111" stroke-width="2.6" />
<text transform="translate(302.0,585.2) scale(1.2,1)" font-size="18.5" font-weight="bold" text-anchor="end" fill="#111" >6</text>
<line x1="308.5" y1="522.5" x2="322.0" y2="522.5" stroke="#111" stroke-width="2.6" />
<text transform="translate(302.0,529.5) scale(1.2,1)" font-size="18.5" font-weight="bold" text-anchor="end" fill="#111" >8</text>
<line x1="308.5" y1="466.8" x2="322.0" y2="466.8" stroke="#111" stroke-width="2.6" />
<text transform="translate(302.0,473.8) scale(1.2,1)" font-size="18.5" font-weight="bold" text-anchor="end" fill="#111" >10</text>
<rect x="342.4" y="529.5" width="41.9" height="215.9" fill="#000080"/>
<line x1="363.4" y1="520.3" x2="363.4" y2="529.5" stroke="#4848c8" stroke-width="1.6" />
<line x1="352.4" y1="520.3" x2="374.4" y2="520.3" stroke="#4848c8" stroke-width="1.6" />
<rect x="406" y="597.7" width="41.9" height="147.7" fill="#0000ff"/>
<line x1="426.9" y1="593.6" x2="426.9" y2="597.7" stroke="#3a3ae0" stroke-width="1.6" />
<line x1="415.9" y1="593.6" x2="437.9" y2="593.6" stroke="#3a3ae0" stroke-width="1.6" />
<rect x="468.4" y="578.2" width="41.6" height="167.2" fill="#ff0000"/>
<line x1="489.2" y1="570.7" x2="489.2" y2="578.2" stroke="#c83030" stroke-width="1.6" />
<line x1="478.2" y1="570.7" x2="500.2" y2="570.7" stroke="#c83030" stroke-width="1.6" />
<rect x="531.4" y="574.9" width="41.8" height="170.5" fill="#00b000"/>
<line x1="552.3" y1="569.6" x2="552.3" y2="574.9" stroke="#3a7a3a" stroke-width="1.6" />
<line x1="541.3" y1="569.6" x2="563.3" y2="569.6" stroke="#3a7a3a" stroke-width="1.6" />
<rect x="593.4" y="578.2" width="42.5" height="167.2" fill="#9f1fcd"/>
<line x1="614.6" y1="574.1" x2="614.6" y2="578.2" stroke="#7a40b0" stroke-width="1.6" />
<line x1="603.6" y1="574.1" x2="625.6" y2="574.1" stroke="#7a40b0" stroke-width="1.6" />
<line x1="363.1" y1="745.4" x2="363.1" y2="756.8" stroke="#111" stroke-width="2.6" />
<line x1="425.9" y1="745.4" x2="425.9" y2="756.8" stroke="#111" stroke-width="2.6" />
<line x1="488.2" y1="745.4" x2="488.2" y2="756.8" stroke="#111" stroke-width="2.6" />
<line x1="552.1" y1="745.4" x2="552.1" y2="756.8" stroke="#111" stroke-width="2.6" />
<line x1="614.5" y1="745.4" x2="614.5" y2="756.8" stroke="#111" stroke-width="2.6" />
<polyline points="425.9,583.3 425.9,490 562.8,490 562.8,516.2" fill="none" stroke="#000" stroke-width="4.3"/>
<line x1="465.2" y1="541.4" x2="641.6" y2="541.4" stroke="#000" stroke-width="4.3" />
<text transform="translate(488.6,572.5) scale(1.2,1)" font-size="21" font-weight="bold" text-anchor="middle" fill="#c01c24" id="st1">*</text>
<text transform="translate(552.3,569.5) scale(1.2,1)" font-size="21" font-weight="bold" text-anchor="middle" fill="#c01c24" id="st2" letter-spacing="0.5">**</text>
<text transform="translate(614.6,573.0) scale(1.2,1)" font-size="21" font-weight="bold" text-anchor="middle" fill="#c01c24" id="st3">*</text>
<text transform="translate(259.0,606.1) scale(1.2,1) rotate(-90)" font-size="22.8" font-weight="bold" text-anchor="middle" fill="#111" id="ylC">Colon length (cm)</text>
<text transform="translate(366.1,781.0) scale(1.2,1) rotate(-45)" font-size="20.8" font-weight="bold" text-anchor="end" fill="#111" id="xc0" word-spacing="1.6">Normal</text>
<text transform="translate(429.9,781.0) scale(1.2,1) rotate(-45)" font-size="20.8" font-weight="bold" text-anchor="end" fill="#111" id="xc1" word-spacing="1.6">DSS</text>
<text transform="translate(491.2,781.0) scale(1.2,1) rotate(-45)" font-size="20.8" font-weight="bold" text-anchor="end" fill="#111" id="xc2" word-spacing="1.6">6e + DSS (10 mpk)</text>
<text transform="translate(550.1,785.0) scale(1.2,1) rotate(-45)" font-size="20.8" font-weight="bold" text-anchor="end" fill="#111" id="xc3" word-spacing="1.6">6e + DSS (30 mpk)</text>
<text transform="translate(616.5,781.0) scale(1.2,1) rotate(-45)" font-size="20.8" font-weight="bold" text-anchor="end" fill="#111" id="xc4" word-spacing="1.6">CsA + DSS (20 mpk)</text>
<text transform="translate(962.5,498.0) scale(1.2,1)" font-size="24.5" font-weight="bold" text-anchor="start" fill="#111" id="tD">D</text>
</g>
<defs><linearGradient id="bgV" gradientUnits="userSpaceOnUse" x1="0" y1="450" x2="0" y2="785"><stop offset="0" stop-color="#c9c8c5"/><stop offset="0.3" stop-color="#c0bfbb"/><stop offset="0.6" stop-color="#b4b3ae"/><stop offset="0.85" stop-color="#abaaa4"/><stop offset="1" stop-color="#a7a6a0"/></linearGradient><linearGradient id="bgH" gradientUnits="userSpaceOnUse" x1="1190" y1="0" x2="1647" y2="0"><stop offset="0" stop-color="#fffdf8" stop-opacity="0.45"/><stop offset="0.15" stop-color="#fffdf8" stop-opacity="0.32"/><stop offset="0.38" stop-color="#fffdf8" stop-opacity="0.08"/><stop offset="0.7" stop-color="#fff" stop-opacity="0.0"/><stop offset="1" stop-color="#3a3020" stop-opacity="0.06"/></linearGradient><radialGradient id="bgR" gradientUnits="userSpaceOnUse" cx="1420" cy="470" r="200"><stop offset="0" stop-color="#fffefa" stop-opacity="0.22"/><stop offset="1" stop-color="#fffefa" stop-opacity="0"/></radialGradient><linearGradient id="rulG" gradientUnits="userSpaceOnUse" x1="0" y1="450" x2="0" y2="785"><stop offset="0" stop-color="#dad8d3"/><stop offset="1" stop-color="#d7d4cd"/></linearGradient><linearGradient id="g1" gradientUnits="userSpaceOnUse" x1="0" y1="457" x2="0" y2="612"><stop offset="0" stop-color="#97804f"/><stop offset="0.12" stop-color="#a08a5e"/><stop offset="0.25" stop-color="#a88c6a"/><stop offset="0.5" stop-color="#9c8256"/><stop offset="1" stop-color="#8a7448"/></linearGradient><linearGradient id="g2" gradientUnits="userSpaceOnUse" x1="0" y1="554" x2="0" y2="774"><stop offset="0" stop-color="#b08a6a"/><stop offset="0.25" stop-color="#ad8a66"/><stop offset="0.5" stop-color="#bb9876"/><stop offset="1" stop-color="#d0b08e"/></linearGradient><linearGradient id="g3" gradientUnits="userSpaceOnUse" x1="0" y1="556" x2="0" y2="776"><stop offset="0" stop-color="#c2a08e"/><stop offset="0.3" stop-color="#c09a86"/><stop offset="0.48" stop-color="#a9805e"/><stop offset="0.7" stop-color="#9c7452"/><stop offset="0.85" stop-color="#ad8a62"/><stop offset="1" stop-color="#c0a072"/></linearGradient><linearGradient id="g4" gradientUnits="userSpaceOnUse" x1="0" y1="532" x2="0" y2="784"><stop offset="0" stop-color="#a88a52"/><stop offset="0.1" stop-color="#ad8c5a"/><stop offset="0.17" stop-color="#c6a486"/><stop offset="0.27" stop-color="#b48e52"/><stop offset="0.4" stop-color="#b68e56"/><stop offset="0.46" stop-color="#cdb28e"/><stop offset="0.52" stop-color="#9a7c46"/><stop offset="0.66" stop-color="#987c48"/><stop offset="0.71" stop-color="#cdb088"/><stop offset="1" stop-color="#d4b690"/></linearGradient><linearGradient id="g5" gradientUnits="userSpaceOnUse" x1="0" y1="524" x2="0" y2="784"><stop offset="0" stop-color="#987a4e"/><stop offset="0.13" stop-color="#9e7c56"/><stop offset="0.2" stop-color="#bc8e7a"/><stop offset="0.38" stop-color="#c6a08a"/><stop offset="0.7" stop-color="#cbaa90"/><stop offset="1" stop-color="#d0b094"/></linearGradient><filter id="pblur" x="-10%" y="-10%" width="120%" height="120%"><feGaussianBlur stdDeviation="0.9"/></filter><filter id="sblur" x="-10%" y="-10%" width="120%" height="120%"><feGaussianBlur stdDeviation="2.2"/></filter><clipPath id="phc"><rect x="1056.5" y="450.5" width="590.5" height="334"/></clipPath></defs>
<g clip-path="url(#phc)">
<rect x="1056.5" y="450.5" width="590.5" height="334" fill="url(#bgV)"/>
<rect x="1190" y="450.5" width="457" height="334" fill="url(#bgH)"/>
<rect x="1190" y="450.5" width="457" height="334" fill="url(#bgR)"/>
<rect x="1056.5" y="450.5" width="133" height="334" fill="url(#rulG)"/>
<rect x="1642.5" y="600" width="5" height="160" fill="#7a7266" opacity="0.7" filter="url(#sblur)"/>
<g filter="url(#sblur)" fill="none" stroke-linecap="round">
<path d="M1248.4,501.8 Q1244.8,481.1 1243.8,469.3" stroke="#f6f4ee" stroke-opacity="0.33" stroke-width="2.3"/>
<path d="M1313.0,475.1 Q1310.4,465.8 1315.3,462.1" stroke="#f6f4ee" stroke-opacity="0.36" stroke-width="4.7"/>
<path d="M1397.3,582.9 Q1399.9,557.8 1406.8,539.8" stroke="#f6f4ee" stroke-opacity="0.17" stroke-width="3.0"/>
<path d="M1537.9,511.6 Q1550.5,498.2 1562.2,493.5" stroke="#f6f4ee" stroke-opacity="0.15" stroke-width="2.7"/>
<path d="M1458.1,593.1 Q1453.7,585.8 1453.3,572.7" stroke="#f6f4ee" stroke-opacity="0.29" stroke-width="2.8"/>
<path d="M1395.8,625.3 Q1416.1,608.4 1426.9,599.2" stroke="#f6f4ee" stroke-opacity="0.23" stroke-width="4.2"/>
<path d="M1147.4,613.4 Q1153.4,615.1 1158.0,609.3" stroke="#f6f4ee" stroke-opacity="0.21" stroke-width="4.0"/>
<path d="M1407.5,643.4 Q1419.8,641.9 1432.7,637.2" stroke="#f6f4ee" stroke-opacity="0.15" stroke-width="4.0"/>
<path d="M1438.5,779.7 Q1434.4,756.5 1426.9,742.7" stroke="#f6f4ee" stroke-opacity="0.24" stroke-width="2.6"/>
<path d="M1126.9,471.5 Q1117.6,458.6 1110.6,438.3" stroke="#f6f4ee" stroke-opacity="0.16" stroke-width="3.4"/>
<path d="M1381.1,743.5 Q1394.9,729.6 1410.5,718.5" stroke="#f6f4ee" stroke-opacity="0.33" stroke-width="4.7"/>
<path d="M1146.7,510.2 Q1145.9,498.9 1143.2,492.4" stroke="#f6f4ee" stroke-opacity="0.14" stroke-width="3.3"/>
<path d="M1275.1,638.9 Q1294.9,629.5 1312.3,616.6" stroke="#f6f4ee" stroke-opacity="0.20" stroke-width="4.5"/>
<path d="M1516.6,740.6 Q1507.2,723.8 1505.8,704.3" stroke="#f6f4ee" stroke-opacity="0.15" stroke-width="2.4"/>
<path d="M1180.8,505.6 Q1170.0,493.4 1166.2,489.2" stroke="#f6f4ee" stroke-opacity="0.22" stroke-width="2.3"/>
<path d="M1572.1,654.6 Q1568.2,643.7 1566.9,640.3" stroke="#f6f4ee" stroke-opacity="0.33" stroke-width="4.8"/>
<path d="M1332.0,611.7 Q1327.4,608.9 1327.5,599.5" stroke="#f6f4ee" stroke-opacity="0.23" stroke-width="2.3"/>
<path d="M1617.2,626.3 Q1612.6,625.3 1607.4,614.7" stroke="#f6f4ee" stroke-opacity="0.33" stroke-width="4.0"/>
<path d="M1211.5,573.0 Q1221.2,567.3 1225.2,565.0" stroke="#f6f4ee" stroke-opacity="0.25" stroke-width="4.3"/>
<path d="M1637.1,733.4 Q1652.1,726.4 1672.6,719.1" stroke="#f6f4ee" stroke-opacity="0.22" stroke-width="2.3"/>
<path d="M1074.4,544.2 Q1083.2,546.4 1093.0,539.9" stroke="#f6f4ee" stroke-opacity="0.36" stroke-width="4.7"/>
<path d="M1272.4,524.8 Q1269.3,520.9 1263.7,509.0" stroke="#f6f4ee" stroke-opacity="0.42" stroke-width="3.4"/>
<path d="M1442.0,715.9 Q1451.0,716.7 1454.5,712.5" stroke="#f6f4ee" stroke-opacity="0.25" stroke-width="2.7"/>
<path d="M1522.0,561.7 Q1536.5,555.1 1552.9,539.5" stroke="#f6f4ee" stroke-opacity="0.30" stroke-width="2.6"/>
<path d="M1132.7,501.9 Q1150.5,491.8 1161.8,472.1" stroke="#f6f4ee" stroke-opacity="0.28" stroke-width="3.1"/>
<path d="M1380.6,495.2 Q1385.6,497.3 1390.1,490.7" stroke="#f6f4ee" stroke-opacity="0.24" stroke-width="4.5"/>
<path d="M1543.8,521.6 Q1540.4,510.8 1535.3,504.8" stroke="#f6f4ee" stroke-opacity="0.23" stroke-width="2.5"/>
<path d="M1593.1,568.7 Q1595.7,560.4 1599.9,543.6" stroke="#f6f4ee" stroke-opacity="0.25" stroke-width="3.6"/>
<path d="M1365.8,458.2 Q1360.4,445.4 1349.0,439.2" stroke="#f6f4ee" stroke-opacity="0.24" stroke-width="4.1"/>
<path d="M1385.2,559.6 Q1383.1,546.2 1389.0,531.7" stroke="#f6f4ee" stroke-opacity="0.19" stroke-width="2.9"/>
<path d="M1512.1,619.5 Q1525.8,616.8 1540.7,611.9" stroke="#f6f4ee" stroke-opacity="0.25" stroke-width="3.5"/>
<path d="M1465.3,601.3 Q1471.6,591.4 1474.0,573.9" stroke="#f6f4ee" stroke-opacity="0.35" stroke-width="2.9"/>
<path d="M1387.0,763.3 Q1375.4,742.7 1364.9,730.7" stroke="#f6f4ee" stroke-opacity="0.19" stroke-width="2.4"/>
<path d="M1451.6,710.7 Q1454.5,686.5 1454.1,669.4" stroke="#f6f4ee" stroke-opacity="0.33" stroke-width="4.7"/>
<path d="M1187.1,766.3 Q1194.7,751.7 1195.5,743.9" stroke="#f6f4ee" stroke-opacity="0.23" stroke-width="3.5"/>
<path d="M1257.4,516.6 Q1264.6,507.8 1270.8,500.2" stroke="#f6f4ee" stroke-opacity="0.19" stroke-width="3.1"/>
<path d="M1424.9,621.0 Q1435.3,615.0 1436.4,616.9" stroke="#f6f4ee" stroke-opacity="0.20" stroke-width="2.3"/>
<path d="M1516.1,541.2 Q1521.2,531.8 1520.0,527.3" stroke="#f6f4ee" stroke-opacity="0.17" stroke-width="4.6"/>
<path d="M1393.5,683.1 Q1392.9,672.3 1393.9,670.0" stroke="#f6f4ee" stroke-opacity="0.35" stroke-width="3.8"/>
<path d="M1529.4,479.6 Q1533.3,458.5 1538.1,440.6" stroke="#f6f4ee" stroke-opacity="0.26" stroke-width="4.6"/>
<path d="M1215.5,494.6 Q1204.0,478.5 1199.2,471.3" stroke="#f6f4ee" stroke-opacity="0.24" stroke-width="3.0"/>
<path d="M1237.3,702.6 Q1230.7,689.1 1227.1,685.3" stroke="#f6f4ee" stroke-opacity="0.20" stroke-width="2.2"/>
<path d="M1489.1,633.8 Q1487.6,629.1 1493.9,618.0" stroke="#f6f4ee" stroke-opacity="0.24" stroke-width="3.5"/>
<path d="M1548.8,581.7 Q1560.7,582.1 1575.9,575.9" stroke="#f6f4ee" stroke-opacity="0.30" stroke-width="3.9"/>
<path d="M1296.0,566.7 Q1294.8,559.5 1288.7,557.2" stroke="#f6f4ee" stroke-opacity="0.23" stroke-width="2.4"/>
<path d="M1552.7,739.3 Q1543.1,723.9 1537.7,709.3" stroke="#f6f4ee" stroke-opacity="0.17" stroke-width="3.4"/>
<path d="M1212.8,769.4 Q1207.7,747.8 1193.2,729.9" stroke="#f6f4ee" stroke-opacity="0.22" stroke-width="2.2"/>
<path d="M1282.4,608.6 Q1275.1,592.7 1277.6,581.5" stroke="#f6f4ee" stroke-opacity="0.21" stroke-width="3.2"/>
<path d="M1082.5,459.4 Q1081.9,451.6 1080.7,438.8" stroke="#f6f4ee" stroke-opacity="0.28" stroke-width="4.1"/>
<path d="M1574.9,580.5 Q1584.6,574.3 1589.9,565.2" stroke="#f6f4ee" stroke-opacity="0.15" stroke-width="4.4"/>
<path d="M1582.5,659.0 Q1595.1,646.2 1607.3,633.4" stroke="#f6f4ee" stroke-opacity="0.32" stroke-width="4.3"/>
<path d="M1543.9,644.7 Q1560.1,631.7 1581.7,628.1" stroke="#f6f4ee" stroke-opacity="0.17" stroke-width="3.1"/>
<path d="M1119.7,727.8 Q1134.7,721.1 1146.1,714.7" stroke="#f6f4ee" stroke-opacity="0.14" stroke-width="4.3"/>
<path d="M1498.0,618.0 Q1509.8,604.7 1516.9,596.3" stroke="#f6f4ee" stroke-opacity="0.16" stroke-width="2.9"/>
<path d="M1486.8,519.7 Q1500.9,510.1 1517.4,500.8" stroke="#f6f4ee" stroke-opacity="0.29" stroke-width="4.2"/>
<path d="M1420.8,664.1 Q1420.4,656.4 1415.3,652.7" stroke="#f6f4ee" stroke-opacity="0.26" stroke-width="2.2"/>
<path d="M1093.7,540.7 Q1106.8,533.9 1124.2,526.8" stroke="#f6f4ee" stroke-opacity="0.24" stroke-width="3.4"/>
<path d="M1127.7,746.9 Q1131.1,744.4 1144.1,742.8" stroke="#f6f4ee" stroke-opacity="0.32" stroke-width="4.7"/>
<path d="M1322.3,540.7 Q1329.4,531.1 1334.9,528.8" stroke="#f6f4ee" stroke-opacity="0.33" stroke-width="4.7"/>
<path d="M1136.0,722.7 Q1146.0,721.1 1161.5,711.6" stroke="#f6f4ee" stroke-opacity="0.25" stroke-width="2.3"/>
<path d="M1060.1,614.3 Q1051.5,601.6 1046.1,592.6" stroke="#f6f4ee" stroke-opacity="0.32" stroke-width="2.2"/>
<path d="M1499.4,728.9 Q1510.0,724.0 1512.5,723.4" stroke="#f6f4ee" stroke-opacity="0.22" stroke-width="3.2"/>
<path d="M1645.3,646.4 Q1636.1,632.1 1635.9,625.8" stroke="#f6f4ee" stroke-opacity="0.32" stroke-width="2.9"/>
<path d="M1608.1,534.3 Q1602.1,530.5 1598.5,517.5" stroke="#f6f4ee" stroke-opacity="0.33" stroke-width="4.3"/>
<path d="M1429.0,753.4 Q1425.8,734.3 1431.6,710.6" stroke="#f6f4ee" stroke-opacity="0.24" stroke-width="4.2"/>
<path d="M1437.0,546.4 Q1440.7,540.6 1445.0,538.0" stroke="#f6f4ee" stroke-opacity="0.21" stroke-width="4.1"/>
<path d="M1632.1,537.9 Q1629.1,518.2 1628.2,505.1" stroke="#f6f4ee" stroke-opacity="0.18" stroke-width="2.7"/>
<path d="M1590.7,616.0 Q1598.9,610.7 1608.0,612.5" stroke="#f6f4ee" stroke-opacity="0.18" stroke-width="2.4"/>
<path d="M1259.1,482.1 Q1262.0,475.4 1257.2,463.8" stroke="#f6f4ee" stroke-opacity="0.30" stroke-width="3.3"/>
<path d="M1366.2,576.4 Q1366.4,562.7 1357.2,556.5" stroke="#f6f4ee" stroke-opacity="0.25" stroke-width="3.8"/>
<path d="M1565.4,523.3 Q1562.0,518.5 1559.8,504.6" stroke="#f6f4ee" stroke-opacity="0.33" stroke-width="4.5"/>
<path d="M1070.8,462.6 Q1086.4,448.3 1100.2,443.9" stroke="#f6f4ee" stroke-opacity="0.23" stroke-width="4.6"/>
<path d="M1543.4,734.3 Q1527.4,716.5 1518.3,698.2" stroke="#f6f4ee" stroke-opacity="0.29" stroke-width="4.6"/>
<path d="M1482.4,665.6 Q1475.5,650.2 1477.9,629.1" stroke="#f6f4ee" stroke-opacity="0.19" stroke-width="4.6"/>
<path d="M1437.6,552.2 Q1439.3,541.1 1437.1,537.8" stroke="#f6f4ee" stroke-opacity="0.16" stroke-width="3.6"/>
<path d="M1400.7,580.1 Q1404.3,572.7 1411.9,566.2" stroke="#f6f4ee" stroke-opacity="0.35" stroke-width="3.9"/>
<path d="M1577.7,608.9 Q1582.6,598.3 1583.5,591.6" stroke="#f6f4ee" stroke-opacity="0.14" stroke-width="3.5"/>
<path d="M1454.6,590.6 Q1461.1,583.6 1473.0,585.9" stroke="#f6f4ee" stroke-opacity="0.21" stroke-width="3.3"/>
<path d="M1459.3,517.4 Q1472.6,512.2 1491.7,497.7" stroke="#f6f4ee" stroke-opacity="0.21" stroke-width="4.3"/>
<path d="M1193.7,525.1 Q1199.4,504.6 1205.2,490.3" stroke="#f6f4ee" stroke-opacity="0.25" stroke-width="3.3"/>
<path d="M1449.2,765.1 Q1450.3,754.9 1442.0,751.8" stroke="#f6f4ee" stroke-opacity="0.15" stroke-width="2.4"/>
<path d="M1289.3,748.4 Q1313.6,742.6 1329.4,740.2" stroke="#f6f4ee" stroke-opacity="0.18" stroke-width="4.6"/>
<path d="M1496.8,462.5 Q1489.9,443.4 1486.4,430.9" stroke="#f6f4ee" stroke-opacity="0.14" stroke-width="2.9"/>
<path d="M1264.7,767.3 Q1268.4,765.6 1275.1,757.5" stroke="#f6f4ee" stroke-opacity="0.32" stroke-width="3.3"/>
<path d="M1087.0,608.2 Q1093.9,604.2 1103.6,592.3" stroke="#f6f4ee" stroke-opacity="0.15" stroke-width="3.3"/>
<path d="M1535.4,705.0 Q1536.1,698.1 1528.3,696.0" stroke="#f6f4ee" stroke-opacity="0.30" stroke-width="4.5"/>
<path d="M1257.4,541.9 Q1275.9,525.7 1290.2,513.3" stroke="#f6f4ee" stroke-opacity="0.26" stroke-width="2.2"/>
<path d="M1502.3,754.4 Q1509.9,741.7 1522.8,729.6" stroke="#f6f4ee" stroke-opacity="0.35" stroke-width="4.7"/>
<path d="M1285.3,534.8 Q1285.7,525.9 1292.5,510.9" stroke="#f6f4ee" stroke-opacity="0.39" stroke-width="4.3"/>
<path d="M1512.4,652.4 Q1511.7,638.0 1505.4,632.1" stroke="#f6f4ee" stroke-opacity="0.18" stroke-width="4.2"/>
<path d="M1203.4,473.4 Q1206.2,472.0 1199.4,462.9" stroke="#f6f4ee" stroke-opacity="0.46" stroke-width="2.9"/>
<path d="M1107.4,483.8 Q1116.2,475.4 1130.3,468.6" stroke="#f6f4ee" stroke-opacity="0.28" stroke-width="4.0"/>
<path d="M1497.8,731.5 Q1499.0,715.9 1504.3,698.9" stroke="#f6f4ee" stroke-opacity="0.22" stroke-width="4.1"/>
<path d="M1175.1,533.7 Q1178.1,522.9 1179.6,515.6" stroke="#f6f4ee" stroke-opacity="0.23" stroke-width="4.8"/>
<path d="M1356.3,528.4 Q1371.1,524.2 1393.8,520.5" stroke="#f6f4ee" stroke-opacity="0.32" stroke-width="4.4"/>
<path d="M1595.7,465.3 Q1595.3,457.4 1585.6,447.7" stroke="#f6f4ee" stroke-opacity="0.34" stroke-width="3.2"/>
<path d="M1567.3,600.2 Q1572.6,598.9 1585.8,595.7" stroke="#f6f4ee" stroke-opacity="0.28" stroke-width="2.8"/>
<path d="M1274.8,498.7 Q1275.7,487.1 1273.6,481.6" stroke="#f6f4ee" stroke-opacity="0.19" stroke-width="3.1"/>
<path d="M1456.9,513.1 Q1458.9,498.4 1459.9,492.4" stroke="#f6f4ee" stroke-opacity="0.16" stroke-width="3.2"/>
<path d="M1381.5,662.9 Q1380.8,654.2 1382.0,649.7" stroke="#f6f4ee" stroke-opacity="0.21" stroke-width="4.7"/>
<path d="M1241.7,639.0 Q1249.1,626.6 1246.6,617.0" stroke="#f6f4ee" stroke-opacity="0.24" stroke-width="4.1"/>
<path d="M1177.8,453.9 Q1180.4,437.3 1184.9,413.0" stroke="#f6f4ee" stroke-opacity="0.24" stroke-width="2.6"/>
<path d="M1066.7,634.0 Q1078.8,620.7 1088.4,609.9" stroke="#f6f4ee" stroke-opacity="0.25" stroke-width="2.6"/>
<path d="M1224.6,624.0 Q1223.6,607.8 1216.6,582.3" stroke="#f6f4ee" stroke-opacity="0.24" stroke-width="2.5"/>
<path d="M1612.5,773.9 Q1615.2,765.1 1620.2,748.2" stroke="#f6f4ee" stroke-opacity="0.28" stroke-width="4.3"/>
<path d="M1152.2,711.3 Q1157.3,699.4 1155.8,693.9" stroke="#f6f4ee" stroke-opacity="0.19" stroke-width="3.2"/>
<path d="M1362.5,578.6 Q1367.0,566.9 1363.5,564.3" stroke="#f6f4ee" stroke-opacity="0.26" stroke-width="4.2"/>
<path d="M1080.4,728.6 Q1080.8,719.7 1078.7,714.6" stroke="#f6f4ee" stroke-opacity="0.23" stroke-width="3.7"/>
<path d="M1308.3,669.4 Q1301.2,659.5 1291.8,649.9" stroke="#f6f4ee" stroke-opacity="0.19" stroke-width="4.2"/>
<path d="M1516.6,603.2 Q1508.2,595.9 1507.3,589.9" stroke="#f6f4ee" stroke-opacity="0.16" stroke-width="3.3"/>
<path d="M1358.0,465.5 Q1362.0,449.5 1360.5,433.3" stroke="#f6f4ee" stroke-opacity="0.15" stroke-width="3.5"/>
<path d="M1280.2,765.8 Q1289.7,767.4 1294.6,762.8" stroke="#f6f4ee" stroke-opacity="0.18" stroke-width="4.8"/>
<path d="M1347.2,767.7 Q1354.4,742.5 1353.0,726.0" stroke="#f6f4ee" stroke-opacity="0.22" stroke-width="4.2"/>
<path d="M1151.4,747.9 Q1158.2,745.0 1165.0,733.8" stroke="#f6f4ee" stroke-opacity="0.19" stroke-width="2.9"/>
<path d="M1355.5,557.3 Q1356.9,554.3 1349.6,547.7" stroke="#f6f4ee" stroke-opacity="0.34" stroke-width="2.6"/>
<path d="M1519.5,490.0 Q1534.6,481.9 1542.3,472.7" stroke="#f6f4ee" stroke-opacity="0.27" stroke-width="4.5"/>
<path d="M1119.5,779.7 Q1119.5,768.7 1124.2,748.0" stroke="#f6f4ee" stroke-opacity="0.27" stroke-width="3.1"/>
<path d="M1507.6,598.0 Q1516.0,589.3 1518.1,585.6" stroke="#f6f4ee" stroke-opacity="0.28" stroke-width="4.8"/>
<path d="M1402.5,671.0 Q1392.3,664.1 1389.1,654.9" stroke="#f6f4ee" stroke-opacity="0.24" stroke-width="3.5"/>
<path d="M1584.6,495.6 Q1585.3,487.2 1596.0,481.7" stroke="#f6f4ee" stroke-opacity="0.16" stroke-width="3.1"/>
<path d="M1189.9,644.6 Q1189.0,625.6 1188.6,614.0" stroke="#f6f4ee" stroke-opacity="0.35" stroke-width="2.8"/>
<path d="M1145.8,483.6 Q1160.0,475.7 1176.1,472.5" stroke="#f6f4ee" stroke-opacity="0.14" stroke-width="3.9"/>
<path d="M1388.7,567.6 Q1395.8,549.5 1398.3,536.5" stroke="#f6f4ee" stroke-opacity="0.34" stroke-width="2.3"/>
<path d="M1370.5,586.0 Q1366.8,577.4 1372.9,567.8" stroke="#f6f4ee" stroke-opacity="0.35" stroke-width="2.6"/>
<path d="M1175.3,652.7 Q1185.2,646.3 1201.6,643.7" stroke="#f6f4ee" stroke-opacity="0.21" stroke-width="2.3"/>
<path d="M1580.9,710.4 Q1586.9,692.9 1587.9,676.0" stroke="#f6f4ee" stroke-opacity="0.30" stroke-width="3.4"/>
<path d="M1190.9,486.7 Q1190.2,480.2 1184.5,469.8" stroke="#f6f4ee" stroke-opacity="0.42" stroke-width="4.1"/>
<path d="M1214.4,634.7 Q1222.9,629.7 1236.1,621.9" stroke="#f6f4ee" stroke-opacity="0.46" stroke-width="2.8"/>
<path d="M1575.5,457.0 Q1580.8,450.0 1577.2,438.0" stroke="#f6f4ee" stroke-opacity="0.21" stroke-width="4.5"/>
<path d="M1251.2,530.9 Q1272.0,527.3 1289.4,514.1" stroke="#f6f4ee" stroke-opacity="0.32" stroke-width="4.4"/>
<path d="M1468.2,735.0 Q1477.4,726.0 1490.4,722.8" stroke="#f6f4ee" stroke-opacity="0.28" stroke-width="2.4"/>
<path d="M1593.5,499.7 Q1593.6,490.9 1596.7,489.2" stroke="#f6f4ee" stroke-opacity="0.15" stroke-width="2.3"/>
<path d="M1465.3,661.2 Q1477.5,646.8 1487.9,635.2" stroke="#f6f4ee" stroke-opacity="0.32" stroke-width="4.3"/>
<path d="M1582.1,473.8 Q1597.8,466.0 1621.3,464.2" stroke="#f6f4ee" stroke-opacity="0.16" stroke-width="2.3"/>
<path d="M1556.5,720.0 Q1568.8,708.8 1585.3,705.7" stroke="#f6f4ee" stroke-opacity="0.16" stroke-width="4.2"/>
<path d="M1178.5,557.3 Q1171.0,548.3 1167.8,534.9" stroke="#f6f4ee" stroke-opacity="0.22" stroke-width="3.0"/>
<path d="M1624.8,618.2 Q1636.7,602.3 1650.2,587.6" stroke="#f6f4ee" stroke-opacity="0.31" stroke-width="3.1"/>
<path d="M1472.3,629.5 Q1481.4,619.7 1484.1,616.5" stroke="#f6f4ee" stroke-opacity="0.14" stroke-width="2.7"/>
<path d="M1506.2,774.7 Q1508.2,766.6 1504.3,764.7" stroke="#f6f4ee" stroke-opacity="0.25" stroke-width="3.1"/>
<path d="M1547.1,538.0 Q1538.9,519.0 1526.8,500.1" stroke="#f6f4ee" stroke-opacity="0.16" stroke-width="3.9"/>
<path d="M1105.6,712.0 Q1119.5,703.4 1136.4,696.7" stroke="#f6f4ee" stroke-opacity="0.23" stroke-width="4.5"/>
<path d="M1108.7,745.2 Q1110.4,740.3 1104.0,735.3" stroke="#f6f4ee" stroke-opacity="0.22" stroke-width="4.5"/>
<path d="M1195.3,604.1 Q1210.1,597.4 1222.0,593.7" stroke="#f6f4ee" stroke-opacity="0.28" stroke-width="2.6"/>
<path d="M1553.7,670.5 Q1552.1,653.8 1545.0,635.6" stroke="#f6f4ee" stroke-opacity="0.17" stroke-width="3.4"/>
<path d="M1578.5,530.5 Q1582.3,518.7 1579.2,513.8" stroke="#f6f4ee" stroke-opacity="0.17" stroke-width="2.8"/>
<path d="M1250.0,624.3 Q1250.9,619.8 1242.2,610.8" stroke="#f6f4ee" stroke-opacity="0.21" stroke-width="4.7"/>
<path d="M1117.8,578.8 Q1137.7,567.4 1158.9,562.0" stroke="#f6f4ee" stroke-opacity="0.28" stroke-width="2.5"/>
<path d="M1179.4,580.2 Q1182.1,574.6 1181.0,569.1" stroke="#f6f4ee" stroke-opacity="0.28" stroke-width="3.4"/>
<path d="M1141.4,651.2 Q1152.3,648.8 1164.7,644.9" stroke="#f6f4ee" stroke-opacity="0.30" stroke-width="3.3"/>
<path d="M1192.4,690.3 Q1214.6,684.0 1229.8,674.1" stroke="#f6f4ee" stroke-opacity="0.28" stroke-width="3.4"/>
<path d="M1242.1,659.3 Q1245.1,654.0 1243.8,646.0" stroke="#f6f4ee" stroke-opacity="0.20" stroke-width="3.3"/>
<path d="M1325.7,657.1 Q1334.3,655.7 1349.2,651.1" stroke="#f6f4ee" stroke-opacity="0.31" stroke-width="3.2"/>
<path d="M1346.0,773.6 Q1345.9,773.2 1340.1,764.0" stroke="#f6f4ee" stroke-opacity="0.25" stroke-width="2.5"/>
<path d="M1395.8,630.5 Q1398.7,613.2 1394.9,595.4" stroke="#f6f4ee" stroke-opacity="0.23" stroke-width="4.7"/>
<path d="M1181.5,677.8 Q1194.5,667.8 1197.8,660.6" stroke="#f6f4ee" stroke-opacity="0.15" stroke-width="2.9"/>
<path d="M1293.0,456.4 Q1292.0,441.7 1294.0,431.8" stroke="#f6f4ee" stroke-opacity="0.25" stroke-width="4.1"/>
<path d="M1610.7,625.9 Q1615.0,617.1 1625.0,615.6" stroke="#f6f4ee" stroke-opacity="0.31" stroke-width="4.3"/>
<path d="M1431.0,606.8 Q1434.3,594.2 1440.6,578.8" stroke="#f6f4ee" stroke-opacity="0.32" stroke-width="4.3"/>
<path d="M1333.2,549.1 Q1334.5,538.3 1338.7,520.5" stroke="#f6f4ee" stroke-opacity="0.26" stroke-width="3.2"/>
<path d="M1207.1,592.6 Q1205.4,581.8 1208.2,576.1" stroke="#f6f4ee" stroke-opacity="0.27" stroke-width="3.4"/>
<path d="M1310.0,662.3 Q1318.3,642.0 1319.5,630.6" stroke="#f6f4ee" stroke-opacity="0.32" stroke-width="4.6"/>
<path d="M1519.0,498.3 Q1526.4,487.7 1543.6,468.0" stroke="#f6f4ee" stroke-opacity="0.28" stroke-width="2.9"/>
<path d="M1117.7,499.1 Q1121.4,497.6 1132.1,488.0" stroke="#f6f4ee" stroke-opacity="0.31" stroke-width="2.6"/>
<path d="M1582.0,652.8 Q1602.8,651.1 1617.9,642.6" stroke="#f6f4ee" stroke-opacity="0.18" stroke-width="4.0"/>
<path d="M1370.1,696.8 Q1378.8,688.0 1392.2,684.4" stroke="#f6f4ee" stroke-opacity="0.17" stroke-width="3.5"/>
<path d="M1092.4,606.1 Q1091.4,602.4 1089.7,591.3" stroke="#f6f4ee" stroke-opacity="0.14" stroke-width="4.4"/>
<path d="M1333.2,637.6 Q1345.7,632.3 1359.9,617.8" stroke="#f6f4ee" stroke-opacity="0.20" stroke-width="3.9"/>
<path d="M1432.0,461.4 Q1445.5,462.4 1462.4,453.7" stroke="#f6f4ee" stroke-opacity="0.25" stroke-width="3.5"/>
<path d="M1585.8,463.2 Q1603.2,451.0 1613.5,441.6" stroke="#f6f4ee" stroke-opacity="0.24" stroke-width="3.6"/>
<path d="M1511.1,521.5 Q1512.9,506.9 1508.1,496.5" stroke="#f6f4ee" stroke-opacity="0.32" stroke-width="3.2"/>
</g>
<line x1="1057.0" y1="781.0" x2="1084.5" y2="781.0" stroke="#928d8a" stroke-width="1.7" />
<line x1="1057.0" y1="776.7" x2="1075.5" y2="776.7" stroke="#928d8a" stroke-width="1.7" />
<line x1="1057.0" y1="772.5" x2="1075.5" y2="772.5" stroke="#928d8a" stroke-width="1.7" />
<line x1="1057.0" y1="768.2" x2="1075.5" y2="768.2" stroke="#928d8a" stroke-width="1.7" />
<line x1="1057.0" y1="763.9" x2="1075.5" y2="763.9" stroke="#928d8a" stroke-width="1.7" />
<line x1="1057.0" y1="759.6" x2="1080.0" y2="759.6" stroke="#928d8a" stroke-width="1.7" />
<line x1="1057.0" y1="755.4" x2="1075.5" y2="755.4" stroke="#928d8a" stroke-width="1.7" />
<line x1="1057.0" y1="751.1" x2="1075.5" y2="751.1" stroke="#928d8a" stroke-width="1.7" />
<line x1="1057.0" y1="746.8" x2="1075.5" y2="746.8" stroke="#928d8a" stroke-width="1.7" />
<line x1="1057.0" y1="742.6" x2="1075.5" y2="742.6" stroke="#928d8a" stroke-width="1.7" />
<line x1="1057.0" y1="738.3" x2="1084.5" y2="738.3" stroke="#928d8a" stroke-width="1.7" />
<line x1="1057.0" y1="734.0" x2="1075.5" y2="734.0" stroke="#928d8a" stroke-width="1.7" />
<line x1="1057.0" y1="729.8" x2="1075.5" y2="729.8" stroke="#928d8a" stroke-width="1.7" />
<line x1="1057.0" y1="725.5" x2="1075.5" y2="725.5" stroke="#928d8a" stroke-width="1.7" />
<line x1="1057.0" y1="721.2" x2="1075.5" y2="721.2" stroke="#928d8a" stroke-width="1.7" />
<line x1="1057.0" y1="717.0" x2="1080.0" y2="717.0" stroke="#928d8a" stroke-width="1.7" />
<line x1="1057.0" y1="712.7" x2="1075.5" y2="712.7" stroke="#928d8a" stroke-width="1.7" />
<line x1="1057.0" y1="708.4" x2="1075.5" y2="708.4" stroke="#928d8a" stroke-width="1.7" />
<line x1="1057.0" y1="704.1" x2="1075.5" y2="704.1" stroke="#928d8a" stroke-width="1.7" />
<line x1="1057.0" y1="699.9" x2="1075.5" y2="699.9" stroke="#928d8a" stroke-width="1.7" />
<line x1="1057.0" y1="695.6" x2="1084.5" y2="695.6" stroke="#928d8a" stroke-width="1.7" />
<line x1="1057.0" y1="691.3" x2="1075.5" y2="691.3" stroke="#928d8a" stroke-width="1.7" />
<line x1="1057.0" y1="687.1" x2="1075.5" y2="687.1" stroke="#928d8a" stroke-width="1.7" />
<line x1="1057.0" y1="682.8" x2="1075.5" y2="682.8" stroke="#928d8a" stroke-width="1.7" />
<line x1="1057.0" y1="678.5" x2="1075.5" y2="678.5" stroke="#928d8a" stroke-width="1.7" />
<line x1="1057.0" y1="674.2" x2="1080.0" y2="674.2" stroke="#928d8a" stroke-width="1.7" />
<line x1="1057.0" y1="670.0" x2="1075.5" y2="670.0" stroke="#928d8a" stroke-width="1.7" />
<line x1="1057.0" y1="665.7" x2="1075.5" y2="665.7" stroke="#928d8a" stroke-width="1.7" />
<line x1="1057.0" y1="661.4" x2="1075.5" y2="661.4" stroke="#928d8a" stroke-width="1.7" />
<line x1="1057.0" y1="657.2" x2="1075.5" y2="657.2" stroke="#928d8a" stroke-width="1.7" />
<line x1="1057.0" y1="652.9" x2="1084.5" y2="652.9" stroke="#928d8a" stroke-width="1.7" />
<line x1="1057.0" y1="648.6" x2="1075.5" y2="648.6" stroke="#928d8a" stroke-width="1.7" />
<line x1="1057.0" y1="644.4" x2="1075.5" y2="644.4" stroke="#928d8a" stroke-width="1.7" />
<line x1="1057.0" y1="640.1" x2="1075.5" y2="640.1" stroke="#928d8a" stroke-width="1.7" />
<line x1="1057.0" y1="635.8" x2="1075.5" y2="635.8" stroke="#928d8a" stroke-width="1.7" />
<line x1="1057.0" y1="631.5" x2="1080.0" y2="631.5" stroke="#928d8a" stroke-width="1.7" />
<line x1="1057.0" y1="627.3" x2="1075.5" y2="627.3" stroke="#928d8a" stroke-width="1.7" />
<line x1="1057.0" y1="623.0" x2="1075.5" y2="623.0" stroke="#928d8a" stroke-width="1.7" />
<line x1="1057.0" y1="618.7" x2="1075.5" y2="618.7" stroke="#928d8a" stroke-width="1.7" />
<line x1="1057.0" y1="614.5" x2="1075.5" y2="614.5" stroke="#928d8a" stroke-width="1.7" />
<line x1="1057.0" y1="610.2" x2="1084.5" y2="610.2" stroke="#928d8a" stroke-width="1.7" />
<line x1="1057.0" y1="605.9" x2="1075.5" y2="605.9" stroke="#928d8a" stroke-width="1.7" />
<line x1="1057.0" y1="601.7" x2="1075.5" y2="601.7" stroke="#928d8a" stroke-width="1.7" />
<line x1="1057.0" y1="597.4" x2="1075.5" y2="597.4" stroke="#928d8a" stroke-width="1.7" />
<line x1="1057.0" y1="593.1" x2="1075.5" y2="593.1" stroke="#928d8a" stroke-width="1.7" />
<line x1="1057.0" y1="588.9" x2="1080.0" y2="588.9" stroke="#928d8a" stroke-width="1.7" />
<line x1="1057.0" y1="584.6" x2="1075.5" y2="584.6" stroke="#928d8a" stroke-width="1.7" />
<line x1="1057.0" y1="580.3" x2="1075.5" y2="580.3" stroke="#928d8a" stroke-width="1.7" />
<line x1="1057.0" y1="576.0" x2="1075.5" y2="576.0" stroke="#928d8a" stroke-width="1.7" />
<line x1="1057.0" y1="571.8" x2="1075.5" y2="571.8" stroke="#928d8a" stroke-width="1.7" />
<line x1="1057.0" y1="567.5" x2="1084.5" y2="567.5" stroke="#928d8a" stroke-width="1.7" />
<line x1="1057.0" y1="563.2" x2="1075.5" y2="563.2" stroke="#928d8a" stroke-width="1.7" />
<line x1="1057.0" y1="559.0" x2="1075.5" y2="559.0" stroke="#928d8a" stroke-width="1.7" />
<line x1="1057.0" y1="554.7" x2="1075.5" y2="554.7" stroke="#928d8a" stroke-width="1.7" />
<line x1="1057.0" y1="550.4" x2="1075.5" y2="550.4" stroke="#928d8a" stroke-width="1.7" />
<line x1="1057.0" y1="546.2" x2="1080.0" y2="546.2" stroke="#928d8a" stroke-width="1.7" />
<line x1="1057.0" y1="541.9" x2="1075.5" y2="541.9" stroke="#928d8a" stroke-width="1.7" />
<line x1="1057.0" y1="537.6" x2="1075.5" y2="537.6" stroke="#928d8a" stroke-width="1.7" />
<line x1="1057.0" y1="533.3" x2="1075.5" y2="533.3" stroke="#928d8a" stroke-width="1.7" />
<line x1="1057.0" y1="529.1" x2="1075.5" y2="529.1" stroke="#928d8a" stroke-width="1.7" />
<line x1="1057.0" y1="524.8" x2="1084.5" y2="524.8" stroke="#928d8a" stroke-width="1.7" />
<line x1="1057.0" y1="520.5" x2="1075.5" y2="520.5" stroke="#928d8a" stroke-width="1.7" />
<line x1="1057.0" y1="516.3" x2="1075.5" y2="516.3" stroke="#928d8a" stroke-width="1.7" />
<line x1="1057.0" y1="512.0" x2="1075.5" y2="512.0" stroke="#928d8a" stroke-width="1.7" />
<line x1="1057.0" y1="507.7" x2="1075.5" y2="507.7" stroke="#928d8a" stroke-width="1.7" />
<line x1="1057.0" y1="503.5" x2="1080.0" y2="503.5" stroke="#928d8a" stroke-width="1.7" />
<line x1="1057.0" y1="499.2" x2="1075.5" y2="499.2" stroke="#928d8a" stroke-width="1.7" />
<line x1="1057.0" y1="494.9" x2="1075.5" y2="494.9" stroke="#928d8a" stroke-width="1.7" />
<line x1="1057.0" y1="490.6" x2="1075.5" y2="490.6" stroke="#928d8a" stroke-width="1.7" />
<line x1="1057.0" y1="486.4" x2="1075.5" y2="486.4" stroke="#928d8a" stroke-width="1.7" />
<line x1="1057.0" y1="482.1" x2="1084.5" y2="482.1" stroke="#928d8a" stroke-width="1.7" />
<line x1="1057.0" y1="477.8" x2="1075.5" y2="477.8" stroke="#928d8a" stroke-width="1.7" />
<line x1="1057.0" y1="473.6" x2="1075.5" y2="473.6" stroke="#928d8a" stroke-width="1.7" />
<line x1="1057.0" y1="469.3" x2="1075.5" y2="469.3" stroke="#928d8a" stroke-width="1.7" />
<line x1="1057.0" y1="465.0" x2="1075.5" y2="465.0" stroke="#928d8a" stroke-width="1.7" />
<line x1="1057.0" y1="460.8" x2="1080.0" y2="460.8" stroke="#928d8a" stroke-width="1.7" />
<line x1="1057.0" y1="456.5" x2="1075.5" y2="456.5" stroke="#928d8a" stroke-width="1.7" />
<line x1="1057.0" y1="452.2" x2="1075.5" y2="452.2" stroke="#928d8a" stroke-width="1.7" />
<text transform="translate(1101.5,781.0) scale(1.2,1) rotate(-90)" font-size="15" font-weight="bold" fill="#333" text-anchor="middle">0</text>
<text transform="translate(1101.5,742.3) scale(1.2,1) rotate(-90)" font-size="15" font-weight="bold" fill="#333">1cm</text>
<text transform="translate(1101.5,695.6) scale(1.2,1) rotate(-90)" font-size="15" font-weight="bold" fill="#333" text-anchor="middle">2</text>
<text transform="translate(1101.5,652.9) scale(1.2,1) rotate(-90)" font-size="15" font-weight="bold" fill="#333" text-anchor="middle">3</text>
<text transform="translate(1101.5,610.2) scale(1.2,1) rotate(-90)" font-size="15" font-weight="bold" fill="#333" text-anchor="middle">4</text>
<text transform="translate(1101.5,567.5) scale(1.2,1) rotate(-90)" font-size="15" font-weight="bold" fill="#333" text-anchor="middle">5</text>
<text transform="translate(1101.5,524.8) scale(1.2,1) rotate(-90)" font-size="15" font-weight="bold" fill="#333" text-anchor="middle">6</text>
<text transform="translate(1101.5,482.1) scale(1.2,1) rotate(-90)" font-size="15" font-weight="bold" fill="#333" text-anchor="middle">7</text>
<line x1="1189.5" y1="450.5" x2="1189.5" y2="784.0" stroke="#8e8c88" stroke-width="2.8" />
<g filter="url(#pblur)">
<path d="M1237.3,462.6 C1241.8,459.6 1251.7,457.8 1259.3,457.1 C1266.9,456.5 1275.1,458.1 1283.0,458.7 C1290.9,459.3 1298.7,460.2 1306.6,461.0 C1314.5,461.8 1324.2,462.1 1330.2,463.4 C1336.2,464.7 1340.5,466.9 1342.8,468.9 C1345.1,470.9 1344.8,473.2 1344.3,475.2 C1343.8,477.2 1343.3,479.8 1339.6,480.7 C1335.9,481.6 1329.1,480.8 1322.3,480.7 C1315.5,480.6 1305.8,479.9 1298.7,479.9 C1291.6,479.9 1283.7,479.6 1279.8,480.7 C1275.9,481.8 1276.1,484.5 1275.1,486.2 C1274.0,487.9 1274.8,488.3 1273.5,490.9 C1272.2,493.5 1268.5,498.8 1267.2,501.9 C1265.9,505.0 1264.5,507.9 1265.6,509.8 C1266.6,511.7 1271.4,511.2 1273.5,513.0 C1275.6,514.8 1277.2,517.4 1278.2,520.8 C1279.2,524.2 1279.8,529.7 1279.8,533.4 C1279.8,537.1 1279.5,539.8 1278.2,542.9 C1276.9,546.0 1274.0,549.4 1271.9,552.3 C1269.8,555.2 1266.6,556.8 1265.6,560.2 C1264.5,563.6 1265.6,568.9 1265.6,572.8 C1265.6,576.7 1266.1,579.3 1265.6,583.8 C1265.1,588.2 1263.0,594.8 1262.5,599.5 C1262.0,604.2 1264.5,609.9 1262.5,612.0 C1260.5,614.1 1252.9,612.8 1250.5,612.0 C1248.1,611.2 1249.2,608.7 1248.3,607.4 C1247.4,606.1 1245.2,606.8 1245.2,604.2 C1245.2,601.6 1247.5,595.8 1248.3,591.6 C1249.1,587.4 1249.4,584.2 1249.9,579.0 C1250.4,573.8 1250.8,566.0 1251.5,560.2 C1252.2,554.4 1253.0,550.2 1253.8,544.4 C1254.6,538.6 1256.1,531.8 1256.2,525.5 C1256.3,519.2 1255.1,511.4 1254.6,506.7 C1254.1,502.0 1254.0,499.6 1253.0,497.2 C1252.0,494.8 1250.6,493.8 1248.3,492.5 C1246.0,491.2 1241.5,490.6 1238.9,489.3 C1236.3,488.0 1233.6,487.0 1232.6,484.6 C1231.5,482.2 1231.8,478.9 1232.6,475.2 C1233.4,471.5 1232.8,465.6 1237.3,462.6 Z" fill="url(#g1)"/>
<path d="M1242,470 C1270,466 1300,468 1334,470" stroke="#bca276" stroke-width="5" fill="none" opacity="0.55" stroke-linecap="round"/>
<ellipse cx="1246" cy="480" rx="11" ry="8" fill="#b48c6c" opacity="0.55"/>
<path d="M1258,492 C1256,520 1256,540 1254,570" stroke="#b08a6a" stroke-width="6" fill="none" opacity="0.45"/>
<path d="M1249.0,600.0 C1250.5,597.2 1259.6,597.2 1262.0,600.0 C1264.4,602.8 1263.1,610.3 1263.4,617.0 C1263.7,623.7 1264.2,630.0 1264.0,640.0 C1263.8,650.0 1261.3,664.7 1262.0,677.0 C1262.7,689.3 1267.0,704.5 1268.0,714.0 C1269.0,723.5 1268.5,726.3 1268.0,734.0 C1267.5,741.7 1265.9,751.7 1265.2,760.0 C1264.5,768.3 1265.5,780.0 1264.0,784.0 C1262.5,788.0 1257.7,788.0 1256.4,784.0 C1255.1,780.0 1256.5,768.3 1256.4,760.0 C1256.3,751.7 1256.1,741.7 1256.0,734.0 C1255.9,726.3 1256.8,723.5 1256.0,714.0 C1255.2,704.5 1251.7,689.3 1251.0,677.0 C1250.3,664.7 1251.7,650.0 1252.0,640.0 C1252.3,630.0 1253.5,623.7 1253.0,617.0 C1252.5,610.3 1247.5,602.8 1249.0,600.0 Z" fill="#d4b794"/>
<ellipse cx="1259" cy="650" rx="8.5" ry="10.5" fill="#6e5a32"/>
<ellipse cx="1253.5" cy="686" rx="9.5" ry="9" fill="#6e5a32"/>
<ellipse cx="1259" cy="707" rx="9.5" ry="7.5" fill="#6e5a32"/>
<ellipse cx="1261.5" cy="747" rx="7.5" ry="13" fill="#6e5a32"/>
<path d="M1316.6,568.1 C1318.6,565.5 1323.9,563.6 1327.8,561.6 C1331.7,559.6 1335.3,557.1 1340.0,555.9 C1344.7,554.6 1350.9,553.9 1355.9,554.1 C1360.9,554.3 1366.1,555.5 1370.0,556.9 C1373.9,558.3 1378.2,561.1 1379.4,562.5 C1380.7,563.9 1379.4,565.1 1377.5,565.3 C1375.6,565.5 1371.7,564.0 1368.1,563.9 C1364.5,563.8 1360.0,563.7 1355.9,564.4 C1351.8,565.1 1346.5,566.9 1343.7,568.1 C1340.9,569.4 1339.7,570.3 1339.1,571.9 C1338.5,573.5 1340.8,575.6 1340.0,577.5 C1339.2,579.4 1335.7,581.2 1334.4,583.1 C1333.2,585.0 1331.6,587.1 1332.5,588.7 C1333.4,590.3 1338.4,590.9 1340.0,592.5 C1341.6,594.1 1342.4,596.2 1341.9,598.1 C1341.4,600.0 1339.1,602.1 1337.2,603.7 C1335.3,605.3 1332.0,605.6 1330.6,607.5 C1329.2,609.4 1329.3,609.6 1328.8,615.0 C1328.3,620.4 1327.5,633.8 1327.5,640.0 C1327.5,646.2 1328.5,647.3 1328.5,652.0 C1328.5,656.7 1327.8,661.7 1327.5,668.0 C1327.2,674.3 1326.0,683.3 1326.8,690.0 C1327.5,696.7 1331.8,702.2 1332.0,708.0 C1332.2,713.8 1329.5,718.8 1328.0,725.0 C1326.5,731.2 1324.6,737.2 1323.3,745.0 C1322.0,752.8 1321.9,767.2 1320.0,772.0 C1318.1,776.8 1314.2,778.5 1312.0,774.0 C1309.8,769.5 1307.3,755.3 1306.5,745.0 C1305.7,734.7 1306.1,721.2 1307.4,712.0 C1308.7,702.8 1313.6,698.7 1314.5,690.0 C1315.4,681.3 1313.0,670.0 1313.0,660.0 C1313.0,650.0 1314.1,636.7 1314.5,630.0 C1314.9,623.3 1315.2,623.8 1315.6,619.7 C1315.9,615.6 1316.3,610.1 1316.6,605.6 C1316.9,601.1 1317.7,597.2 1317.5,592.5 C1317.3,587.8 1315.8,581.6 1315.6,577.5 C1315.4,573.4 1314.6,570.8 1316.6,568.1 Z" fill="url(#g2)"/>
<ellipse cx="1369" cy="560.5" rx="9" ry="3.5" fill="#8a5548" opacity="0.7" transform="rotate(12 1369 560.5)"/>
<ellipse cx="1320.5" cy="659" rx="8" ry="10" fill="#8a6b3c"/>
<ellipse cx="1319.5" cy="710" rx="12" ry="14" fill="#8a6b3c"/>
<path d="M1408.4,575.6 C1409.2,572.8 1410.4,571.5 1413.1,570.0 C1415.8,568.5 1420.7,567.3 1424.4,566.7 C1428.2,566.1 1431.4,567.5 1435.6,566.2 C1439.8,564.9 1446.3,560.3 1449.7,558.7 C1453.1,557.1 1453.9,556.4 1456.2,556.4 C1458.5,556.4 1462.3,557.4 1463.7,558.7 C1465.1,560.0 1465.6,562.8 1464.7,564.4 C1463.8,566.0 1461.4,567.0 1458.1,568.1 C1454.8,569.2 1449.1,569.6 1445.0,571.0 C1440.9,572.4 1436.2,574.6 1433.7,576.6 C1431.2,578.6 1430.0,581.1 1430.0,583.1 C1430.0,585.1 1432.9,586.5 1433.7,588.7 C1434.5,590.9 1436.0,594.2 1434.7,596.2 C1433.5,598.2 1427.1,599.1 1426.2,601.0 C1425.3,602.9 1428.5,605.2 1429.1,607.5 C1429.7,609.8 1430.5,613.0 1430.0,615.0 C1429.5,617.0 1427.9,618.1 1426.2,619.7 C1424.5,621.3 1420.9,622.4 1419.7,624.4 C1418.5,626.4 1419.8,626.1 1419.3,632.0 C1418.8,637.9 1417.9,652.0 1417.0,660.0 C1416.1,668.0 1415.2,673.3 1414.0,680.0 C1412.8,686.7 1410.6,691.7 1409.6,700.0 C1408.6,708.3 1407.8,720.0 1407.8,730.0 C1407.8,740.0 1409.5,752.3 1409.6,760.0 C1409.7,767.7 1409.9,773.3 1408.6,776.0 C1407.3,778.7 1403.5,778.7 1402.0,776.0 C1400.5,773.3 1400.1,767.7 1399.3,760.0 C1398.5,752.3 1397.6,740.0 1397.0,730.0 C1396.4,720.0 1395.5,708.3 1395.6,700.0 C1395.7,691.7 1396.0,686.7 1397.8,680.0 C1399.6,673.3 1404.8,666.7 1406.2,660.0 C1407.6,653.3 1406.0,645.2 1406.2,640.0 C1406.4,634.8 1406.8,633.2 1407.5,629.0 C1408.2,624.8 1410.0,619.7 1410.3,615.0 C1410.6,610.3 1409.7,605.7 1409.4,601.0 C1409.1,596.3 1408.6,591.1 1408.4,586.9 C1408.2,582.7 1407.6,578.4 1408.4,575.6 Z" fill="url(#g3)"/>
<ellipse cx="1426" cy="570" rx="6" ry="3.5" fill="#9a5a48" opacity="0.6"/>
<path d="M1482.4,542.8 C1484.5,540.5 1488.7,536.4 1493.9,534.7 C1499.1,533.0 1507.8,532.3 1513.6,532.4 C1519.4,532.5 1524.3,534.6 1528.7,535.3 C1533.1,536.0 1536.5,536.0 1540.2,536.4 C1543.9,536.8 1548.5,536.4 1550.7,537.6 C1552.9,538.9 1554.0,541.9 1553.6,543.9 C1553.2,545.9 1551.2,548.4 1548.4,549.7 C1545.6,551.1 1541.0,551.7 1536.8,552.0 C1532.5,552.3 1526.4,551.1 1522.9,551.5 C1519.4,551.9 1517.5,553.1 1515.9,554.4 C1514.4,555.6 1515.3,557.9 1513.6,559.0 C1511.9,560.1 1507.2,559.8 1505.5,561.3 C1503.8,562.8 1503.4,565.8 1503.2,568.3 C1503.0,570.8 1503.6,573.7 1504.4,576.4 C1505.2,579.1 1507.6,581.2 1507.8,584.5 C1508.0,587.8 1506.7,592.1 1505.5,596.0 C1504.3,599.9 1502.1,603.3 1500.9,607.6 C1499.8,611.9 1499.2,617.6 1498.6,622.0 C1497.9,626.4 1497.8,630.0 1497.0,634.0 C1496.2,638.0 1494.9,641.7 1494.0,646.0 C1493.1,650.3 1491.4,654.3 1491.5,660.0 C1491.6,665.7 1493.7,674.2 1494.5,680.0 C1495.3,685.8 1497.6,690.5 1496.5,695.0 C1495.4,699.5 1489.9,699.5 1488.1,707.0 C1486.2,714.5 1486.1,727.2 1485.4,740.0 C1484.8,752.8 1486.5,776.7 1484.2,784.0 C1482.0,791.3 1473.5,791.3 1471.9,784.0 C1470.3,776.7 1473.8,752.8 1474.8,740.0 C1475.8,727.2 1477.5,714.5 1477.8,707.0 C1478.1,699.5 1477.2,699.5 1476.5,695.0 C1475.8,690.5 1473.3,685.8 1473.3,680.0 C1473.3,674.2 1474.7,665.7 1476.3,660.0 C1477.9,654.3 1482.0,650.7 1483.0,646.0 C1484.0,641.3 1482.5,636.5 1482.2,632.0 C1481.9,627.5 1481.2,623.3 1481.2,619.2 C1481.2,615.1 1480.9,611.5 1482.4,607.6 C1484.0,603.7 1488.8,599.9 1490.5,596.0 C1492.2,592.1 1493.0,588.4 1492.8,584.5 C1492.6,580.6 1489.9,576.8 1489.3,572.9 C1488.7,569.0 1490.3,564.4 1489.3,561.3 C1488.3,558.2 1484.8,556.5 1483.5,554.4 C1482.2,552.3 1481.4,550.5 1481.2,548.6 C1481.0,546.7 1480.3,545.1 1482.4,542.8 Z" fill="url(#g4)"/>
<path d="M1566.9,550.9 C1567.9,547.4 1570.5,541.7 1573.8,538.2 C1577.1,534.7 1581.6,531.8 1586.6,530.0 C1591.6,528.2 1598.1,527.9 1603.9,527.7 C1609.7,527.5 1616.9,529.3 1621.3,528.9 C1625.7,528.5 1627.6,526.2 1630.5,525.4 C1633.4,524.6 1636.7,523.5 1638.7,524.3 C1640.7,525.1 1642.3,528.1 1642.7,530.0 C1643.1,531.9 1642.6,534.2 1641.0,535.8 C1639.4,537.3 1636.6,538.1 1632.9,539.3 C1629.2,540.5 1623.2,541.8 1619.0,542.8 C1614.8,543.8 1610.5,543.4 1607.4,545.1 C1604.3,546.8 1601.4,550.5 1600.4,553.2 C1599.4,555.9 1602.9,559.6 1601.6,561.3 C1600.2,563.0 1594.6,562.0 1592.3,563.6 C1590.0,565.2 1588.7,567.9 1587.7,570.6 C1586.8,573.3 1586.6,577.1 1586.6,579.8 C1586.6,582.5 1588.7,584.1 1587.7,586.8 C1586.7,589.5 1582.7,592.5 1580.8,596.0 C1578.9,599.5 1577.1,602.8 1576.1,607.6 C1575.1,612.4 1575.4,619.6 1575.0,625.0 C1574.6,630.4 1574.2,634.2 1573.5,640.0 C1572.8,645.8 1571.5,651.7 1571.1,660.0 C1570.7,668.3 1571.0,678.3 1571.1,690.0 C1571.2,701.7 1571.0,714.3 1571.6,730.0 C1572.2,745.7 1576.5,775.0 1574.5,784.0 C1572.5,793.0 1562.3,793.0 1559.3,784.0 C1556.3,775.0 1557.0,745.7 1556.3,730.0 C1555.5,714.3 1555.4,701.7 1554.8,690.0 C1554.2,678.3 1552.6,669.0 1552.9,660.0 C1553.2,651.0 1555.4,642.8 1556.8,636.0 C1558.2,629.2 1559.4,625.9 1561.1,619.2 C1562.8,612.5 1565.2,602.6 1566.9,596.0 C1568.6,589.4 1570.7,584.8 1571.5,579.8 C1572.3,574.8 1572.1,569.5 1571.5,566.0 C1570.9,562.5 1568.8,561.5 1568.0,559.0 C1567.2,556.5 1565.9,554.4 1566.9,550.9 Z" fill="url(#g5)"/>
<path d="M1590,566 C1585,580 1582,595 1575,610" stroke="#c0604e" stroke-width="3" fill="none" opacity="0.6"/>
<ellipse cx="1557.6" cy="566" rx="4.5" ry="2.8" fill="#7a6a3a"/>
</g>
</g>
<line x1="1189.0" y1="784.3" x2="1647.0" y2="784.3" stroke="#3c3b38" stroke-width="2.4" />
<g filter="url(#gblur)">
<text transform="translate(1262.0,810.0) scale(1.1,1) rotate(-45)" font-size="19.3" font-weight="bold" text-anchor="end" fill="#111" id="xd0" word-spacing="1.6">Normal</text>
<text transform="translate(1326.0,807.0) scale(1.1,1) rotate(-45)" font-size="19.3" font-weight="bold" text-anchor="end" fill="#111" id="xd1" word-spacing="1.6">DSS</text>
<text transform="translate(1406.0,801.0) scale(1.1,1) rotate(-45)" font-size="19.3" font-weight="bold" text-anchor="end" fill="#111" id="xd2" word-spacing="1.6">6e + DSS (10 mpk)</text>
<text transform="translate(1486.0,801.0) scale(1.1,1) rotate(-45)" font-size="19.3" font-weight="bold" text-anchor="end" fill="#111" id="xd3" word-spacing="1.6">6e + DSS (30 mpk)</text>
<text transform="translate(1575.0,803.0) scale(1.1,1) rotate(-45)" font-size="19.3" font-weight="bold" text-anchor="end" fill="#111" id="xd4" word-spacing="1.6">CsA + DSS (20 mpk)</text>
</g>
</svg></body></html>
